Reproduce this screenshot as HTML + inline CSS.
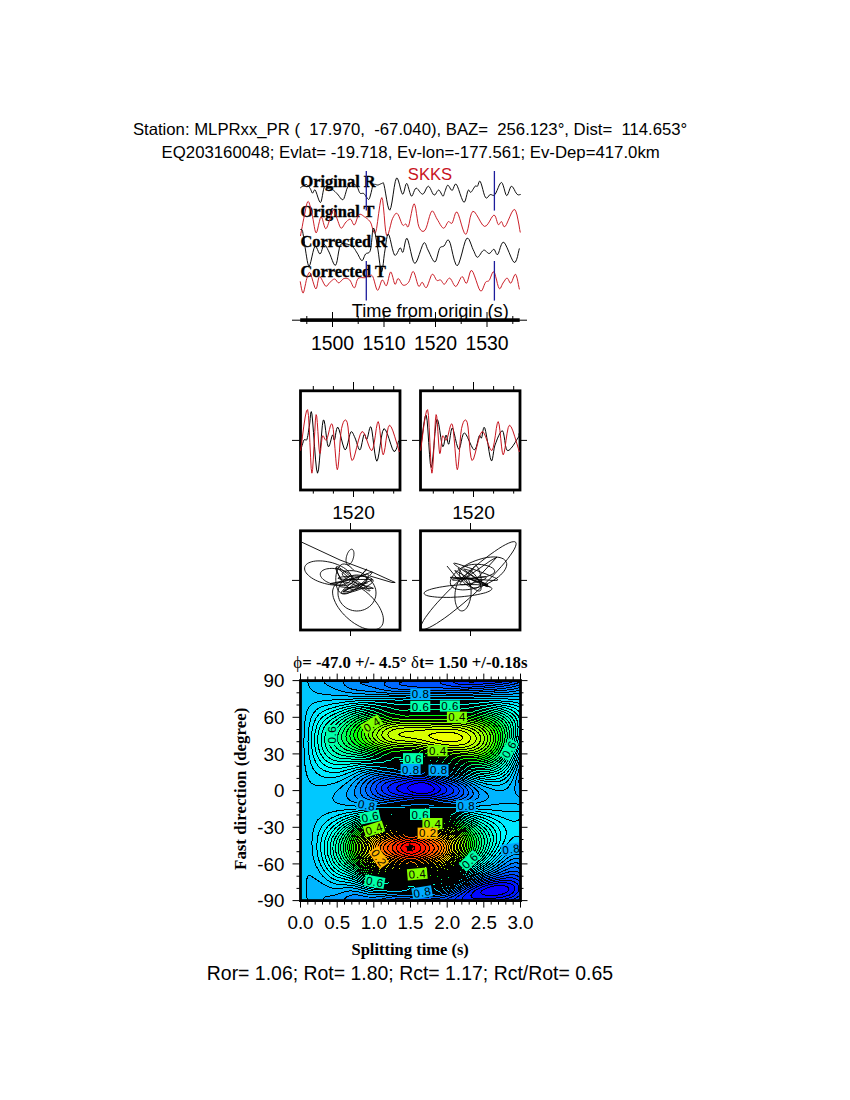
<!DOCTYPE html>
<html><head><meta charset="utf-8"><style>
html,body{margin:0;padding:0;background:#fff;}
body{width:850px;height:1100px;overflow:hidden;}
svg{display:block;}
.h{font-family:"Liberation Sans",Arial,sans-serif;}
.t{font-family:"Liberation Serif","Times New Roman",serif;font-weight:bold;}
text{white-space:pre;}
</style></head><body>
<svg width="850" height="1100" viewBox="0 0 850 1100">
<rect width="850" height="1100" fill="#fff"/>

<text class="h" x="132.9" y="134.8" font-size="16.72">Station: MLPRxx_PR (  17.970,  -67.040), BAZ=  256.123°, Dist=  114.653°</text>
<text class="h" x="161.6" y="157.8" font-size="16.77">EQ203160048; Evlat= -19.718, Ev-lon=-177.561; Ev-Dep=417.0km</text>
<text class="t" x="300.5" y="186.6" font-size="16.4" stroke="#000" stroke-width="0.35">Original R</text>
<text class="t" x="300.5" y="216.8" font-size="16.4" stroke="#000" stroke-width="0.35">Original T</text>
<text class="t" x="300.5" y="246.8" font-size="16.4" stroke="#000" stroke-width="0.35">Corrected R</text>
<text class="t" x="300.5" y="276.8" font-size="16.4" stroke="#000" stroke-width="0.35">Corrected T</text>
<polyline fill="none" stroke="#000" stroke-width="0.95" points="300.2,187.9 300.5,187.7 300.9,187.4 301.4,187.0 302.0,186.7 302.6,186.3 303.1,186.0 303.6,185.7 304.2,185.3 304.8,184.9 305.3,184.6 305.9,184.4 306.5,184.5 307.1,184.8 307.7,185.4 308.4,186.1 309.0,186.8 309.6,187.6 310.1,188.4 310.6,189.2 311.0,190.2 311.4,191.2 311.7,192.1 312.1,192.7 312.5,193.1 312.9,192.9 313.3,192.1 313.7,191.2 314.2,190.3 314.7,189.9 315.3,190.2 316.0,191.7 316.9,194.2 317.8,197.1 318.8,199.9 319.7,201.9 320.5,202.5 321.2,201.4 321.8,198.9 322.4,195.7 323.0,192.2 323.6,189.3 324.2,187.4 324.8,186.6 325.4,186.6 326.0,186.9 326.7,187.5 327.3,188.1 328.0,188.5 328.7,188.7 329.5,188.8 330.3,189.0 331.1,189.1 331.9,189.4 332.7,189.8 333.5,190.3 334.2,190.9 335.0,191.6 335.8,192.4 336.6,193.2 337.4,194.0 338.3,195.1 339.3,196.4 340.3,197.8 341.3,199.0 342.2,199.7 343.1,199.6 343.9,198.6 344.6,196.7 345.3,194.4 346.0,191.9 346.6,189.7 347.3,187.9 348.0,186.6 348.6,185.5 349.2,184.7 349.8,183.9 350.4,183.4 351.0,183.0 351.5,182.8 352.0,182.8 352.5,183.0 353.0,183.3 353.5,183.7 354.0,184.0 354.5,184.3 355.1,184.7 355.6,185.1 356.2,185.6 356.7,186.2 357.2,186.9 357.7,187.8 358.1,188.9 358.6,190.2 359.0,191.3 359.5,192.4 360.0,193.1 360.6,193.5 361.2,193.5 361.9,193.4 362.6,193.3 363.2,193.3 363.8,193.5 364.3,194.0 364.8,194.6 365.3,195.3 365.7,196.1 366.1,196.8 366.6,197.3 367.1,197.8 367.5,198.5 368.0,199.1 368.4,199.4 368.9,199.3 369.4,198.7 369.9,197.2 370.5,195.0 371.2,192.4 371.8,189.7 372.3,187.4 372.8,185.7 373.2,184.8 373.5,184.3 373.8,184.1 374.0,184.2 374.3,184.3 374.7,184.3 375.2,184.3 375.7,184.5 376.2,184.7 376.8,184.9 377.4,185.0 378.0,185.0 378.7,184.8 379.4,184.5 380.2,184.1 380.9,183.8 381.6,183.5 382.2,183.4 382.6,183.2 382.9,182.9 383.1,182.6 383.3,182.8 383.6,183.5 384.1,185.2 384.8,188.7 385.7,193.9 386.7,199.8 387.7,205.2 388.8,209.1 389.8,210.2 390.9,207.6 392.0,202.0 393.1,194.8 394.2,187.4 395.3,181.4 396.4,178.2 397.5,178.4 398.5,181.0 399.6,184.9 400.6,189.1 401.6,192.5 402.5,194.2 403.3,193.7 404.0,191.7 404.7,189.0 405.3,186.3 406.0,184.2 406.7,183.4 407.5,184.4 408.2,186.7 409.0,189.6 409.8,192.5 410.6,194.9 411.4,196.1 412.2,195.8 412.9,194.4 413.6,192.5 414.4,190.5 415.2,188.9 416.1,188.1 417.1,188.5 418.2,189.6 419.3,191.2 420.5,192.7 421.6,193.8 422.7,194.2 423.7,193.5 424.7,192.0 425.6,190.0 426.5,188.1 427.5,186.7 428.4,186.2 429.3,186.9 430.3,188.4 431.3,190.5 432.2,192.5 433.1,194.2 434.0,195.1 434.8,194.9 435.7,194.0 436.4,192.7 437.2,191.4 438.0,190.4 438.7,190.0 439.5,190.5 440.2,191.6 441.0,193.0 441.7,194.5 442.3,195.6 442.9,196.1 443.4,196.0 443.7,195.4 444.0,194.5 444.3,193.5 444.6,192.4 445.0,191.4 445.4,190.3 445.8,189.0 446.3,187.7 446.7,186.5 447.2,185.6 447.8,185.2 448.4,185.5 449.1,186.5 449.9,187.8 450.6,189.1 451.4,190.1 452.1,190.4 452.8,189.8 453.4,188.3 454.0,186.6 454.7,185.0 455.4,184.1 456.3,184.3 457.4,186.2 458.7,189.6 460.0,193.6 461.4,197.5 462.7,200.7 463.8,202.2 464.7,201.8 465.5,200.0 466.2,197.3 466.9,194.4 467.5,191.9 468.1,190.4 468.6,190.0 469.1,190.3 469.5,191.0 469.9,191.8 470.4,192.3 470.9,192.3 471.5,191.7 472.3,190.6 473.0,189.4 473.8,188.1 474.5,187.0 475.1,186.2 475.6,185.9 476.0,185.9 476.4,186.1 476.7,186.3 477.1,186.4 477.5,186.2 477.9,185.4 478.3,184.2 478.7,182.8 479.2,181.7 479.7,181.1 480.3,181.5 481.0,183.2 481.9,186.0 482.8,189.4 483.7,192.8 484.6,195.7 485.5,197.5 486.3,198.1 487.1,197.8 487.9,197.1 488.7,196.1 489.4,195.1 490.2,194.6 491.0,194.6 491.7,194.8 492.4,195.2 493.2,195.4 494.0,195.3 494.9,194.6 495.9,193.0 497.0,190.5 498.2,187.7 499.3,185.0 500.5,183.1 501.5,182.4 502.4,183.4 503.3,185.8 504.2,188.8 505.0,191.9 505.8,194.4 506.6,195.6 507.4,195.1 508.2,193.5 509.0,191.2 509.8,188.9 510.6,187.0 511.4,186.2 512.3,186.6 513.3,187.9 514.3,189.6 515.2,191.5 516.2,193.1 517.0,194.2 517.8,194.7 518.5,194.9 519.2,194.8 519.9,194.6 520.4,194.5 520.8,194.4"/><polyline fill="none" stroke="#c8141e" stroke-width="0.95" points="300.5,236.0 300.9,233.6 301.5,230.3 302.3,226.3 303.0,222.2 303.8,218.3 304.5,215.0 305.1,212.0 305.7,208.9 306.3,205.9 306.9,203.5 307.6,201.9 308.2,201.4 308.9,202.2 309.6,204.3 310.4,207.1 311.1,210.3 311.8,213.6 312.5,216.5 313.1,219.5 313.7,223.1 314.3,226.6 314.9,229.8 315.5,232.0 316.2,232.9 316.9,231.8 317.7,229.0 318.5,225.2 319.4,221.5 320.2,218.4 321.0,217.0 321.8,217.6 322.6,219.6 323.3,222.4 324.1,225.3 324.9,227.7 325.6,228.7 326.3,228.4 327.1,227.1 327.8,225.3 328.5,223.2 329.2,221.1 329.9,219.3 330.5,217.5 331.2,215.4 331.8,213.4 332.4,211.6 333.0,210.3 333.6,209.9 334.2,210.5 334.9,211.9 335.6,213.8 336.2,216.1 336.9,218.2 337.5,220.0 338.1,221.6 338.7,223.4 339.3,225.1 339.9,226.6 340.5,227.7 341.2,228.2 341.9,228.0 342.7,227.1 343.5,225.8 344.4,224.3 345.2,223.0 346.0,222.0 346.8,221.3 347.6,220.5 348.4,219.9 349.1,219.5 349.9,219.2 350.6,219.3 351.3,219.9 351.9,221.1 352.5,222.6 353.1,223.9 353.7,224.8 354.4,224.9 355.1,224.0 355.9,222.2 356.6,219.9 357.4,217.7 358.3,215.8 359.1,214.6 360.0,214.2 360.9,214.4 361.8,214.8 362.8,215.5 363.8,216.3 364.7,217.0 365.6,217.6 366.6,218.3 367.6,219.0 368.5,219.9 369.5,220.9 370.4,222.1 371.3,224.1 372.1,226.9 373.0,229.8 373.8,232.2 374.7,233.3 375.6,232.5 376.6,228.5 377.6,221.5 378.7,213.3 379.8,205.5 380.8,199.7 381.8,197.6 382.7,200.3 383.4,206.8 384.2,215.3 384.9,224.1 385.7,231.3 386.5,235.3 387.5,235.5 388.5,233.3 389.5,229.5 390.6,225.2 391.6,221.1 392.6,218.4 393.5,216.7 394.3,215.3 395.0,214.2 395.7,213.6 396.5,213.3 397.3,213.6 398.2,214.7 399.1,216.6 400.0,219.0 400.9,221.4 401.7,223.5 402.5,224.9 403.2,225.4 403.8,225.4 404.3,225.0 404.8,224.5 405.3,224.1 405.8,224.0 406.3,224.4 406.7,225.3 407.1,226.3 407.5,226.9 408.0,226.9 408.6,225.9 409.4,223.1 410.3,218.6 411.3,213.5 412.3,208.7 413.3,205.2 414.2,203.8 415.0,205.3 415.8,208.9 416.5,213.7 417.3,218.9 418.0,223.6 418.9,226.8 419.8,228.7 420.8,230.2 421.9,231.1 423.0,231.4 424.0,231.1 425.1,230.1 426.2,227.9 427.3,224.5 428.4,220.4 429.5,216.4 430.6,213.2 431.6,211.3 432.6,211.0 433.4,211.8 434.3,213.4 435.2,215.3 436.1,217.3 437.0,219.0 438.0,220.6 439.1,222.5 440.2,224.5 441.3,226.2 442.4,227.6 443.4,228.2 444.3,227.9 445.2,226.9 446.0,225.4 446.8,223.8 447.6,222.4 448.3,221.6 449.0,221.5 449.6,222.0 450.2,222.6 450.8,223.2 451.4,223.5 452.1,223.1 452.8,221.6 453.6,219.2 454.4,216.4 455.2,213.8 456.1,212.2 457.2,212.2 458.4,214.5 459.8,218.8 461.3,224.1 462.8,229.1 464.3,232.9 465.7,234.4 466.9,232.7 468.0,228.6 469.1,223.3 470.1,217.8 471.4,213.5 472.8,211.3 474.5,211.9 476.4,214.5 478.5,218.1 480.6,221.9 482.6,225.0 484.5,226.4 486.3,225.8 488.0,223.8 489.7,221.1 491.2,218.3 492.7,216.1 493.9,215.1 494.9,215.6 495.7,217.2 496.4,219.3 497.0,221.5 497.6,223.4 498.2,224.5 498.8,224.6 499.4,224.2 499.9,223.3 500.4,222.5 500.9,221.8 501.5,221.6 502.0,222.2 502.5,223.4 503.0,224.9 503.5,226.1 504.2,226.8 505.2,226.4 506.5,224.4 508.0,220.9 509.8,216.8 511.5,212.9 513.2,210.2 514.6,209.4 515.8,211.2 517.0,215.0 518.0,219.9 519.0,225.0 519.7,229.5 520.3,232.5"/><polyline fill="none" stroke="#000" stroke-width="0.95" points="300.2,229.5 300.5,229.5 300.8,229.4 301.2,229.3 301.7,229.5 302.1,230.1 302.6,231.4 303.0,233.6 303.5,236.5 304.0,239.8 304.5,243.4 305.0,246.8 305.5,250.0 306.0,253.3 306.6,256.9 307.2,260.5 307.8,263.5 308.5,265.6 309.2,266.2 310.0,264.7 310.9,261.3 311.9,256.9 312.9,252.4 313.9,248.6 314.8,246.5 315.7,246.4 316.6,247.6 317.5,249.6 318.4,251.7 319.2,253.4 320.0,254.0 320.8,253.2 321.5,251.5 322.1,249.3 322.8,247.1 323.5,245.4 324.2,244.6 324.9,244.8 325.7,245.6 326.5,246.9 327.3,248.5 328.1,250.2 329.0,252.0 330.0,254.3 331.1,257.2 332.3,260.4 333.4,263.1 334.5,264.9 335.5,265.3 336.4,263.7 337.2,260.5 337.9,256.3 338.6,252.0 339.4,248.1 340.2,245.5 341.1,244.1 342.0,243.5 343.0,243.4 344.0,243.5 345.0,243.8 346.0,244.0 347.1,244.1 348.2,244.4 349.3,244.7 350.4,245.2 351.5,245.8 352.5,246.5 353.4,247.4 354.2,248.4 355.0,249.5 355.7,250.7 356.4,251.9 357.2,253.1 358.0,254.5 358.8,256.1 359.6,257.7 360.4,259.1 361.2,260.2 361.9,260.6 362.6,260.3 363.2,259.3 363.7,258.0 364.3,256.5 364.9,255.1 365.6,254.0 366.4,253.4 367.2,253.2 368.0,253.1 368.9,252.7 369.7,251.9 370.4,250.2 371.0,247.1 371.5,242.5 372.0,237.5 372.4,232.8 372.9,229.4 373.5,228.0 374.2,229.1 374.9,232.1 375.7,236.2 376.5,241.0 377.3,245.8 378.0,250.0 378.6,254.2 379.2,259.0 379.8,263.8 380.4,267.9 380.9,270.9 381.5,272.0 382.1,270.8 382.7,267.7 383.3,263.4 383.8,258.5 384.4,253.8 385.0,250.0 385.5,246.6 386.0,242.9 386.5,239.4 387.1,236.5 387.7,234.6 388.4,234.2 389.3,235.9 390.3,239.5 391.3,244.1 392.4,248.8 393.5,252.7 394.5,255.0 395.5,255.3 396.5,254.3 397.5,252.5 398.5,250.5 399.3,248.8 400.1,247.9 400.7,248.2 401.2,249.1 401.6,250.4 402.0,251.6 402.5,252.3 403.0,252.1 403.6,250.4 404.2,247.5 404.8,244.0 405.5,240.8 406.3,238.7 407.2,238.5 408.2,240.9 409.4,245.6 410.7,251.4 412.0,257.0 413.3,261.4 414.7,263.4 416.2,262.3 417.7,259.0 419.3,254.4 420.9,249.6 422.4,245.5 423.6,243.2 424.6,242.7 425.3,243.3 425.9,244.6 426.5,246.3 427.2,248.3 428.0,250.0 429.0,252.0 430.2,254.6 431.4,257.3 432.7,259.7 433.8,261.4 434.9,262.0 435.8,261.1 436.6,258.9 437.4,256.1 438.1,253.1 438.9,250.3 439.6,248.4 440.3,247.4 441.1,246.9 441.8,246.7 442.5,246.6 443.2,246.4 444.0,246.0 444.8,244.9 445.6,243.4 446.4,241.7 447.2,240.4 448.2,240.0 449.2,240.8 450.4,243.8 451.6,248.8 452.9,254.7 454.3,260.2 455.8,264.3 457.2,265.8 458.7,263.8 460.3,259.1 462.0,253.0 463.6,246.7 465.2,241.4 466.6,238.5 467.9,238.2 469.1,239.5 470.2,242.0 471.3,244.9 472.3,247.7 473.2,249.8 474.0,251.4 474.7,253.1 475.4,254.7 476.0,256.0 476.7,256.9 477.5,257.3 478.4,256.8 479.4,255.6 480.5,254.0 481.5,252.3 482.6,251.0 483.6,250.2 484.6,250.2 485.5,250.8 486.5,251.7 487.4,252.6 488.3,253.3 489.2,253.5 490.0,253.1 490.9,252.3 491.7,251.3 492.4,250.3 493.2,249.5 493.9,249.3 494.6,249.8 495.1,251.0 495.7,252.4 496.3,253.7 496.9,254.5 497.7,254.5 498.5,253.1 499.4,250.5 500.3,247.4 501.4,244.5 502.5,242.6 503.8,242.2 505.3,244.1 507.1,247.8 509.1,252.5 511.0,257.1 512.7,260.7 514.2,262.5 515.4,262.0 516.5,259.8 517.5,256.7 518.2,253.3 518.9,250.3 519.4,248.4"/><polyline fill="none" stroke="#c8141e" stroke-width="0.95" points="300.2,281.4 300.5,283.0 300.9,285.4 301.4,288.2 302.0,290.7 302.5,292.5 303.1,293.1 303.7,292.1 304.3,289.8 304.9,286.9 305.6,283.7 306.2,280.7 306.8,278.5 307.3,276.8 307.8,275.2 308.3,273.8 308.8,272.8 309.4,272.5 310.1,272.9 310.9,274.6 311.9,277.7 312.9,281.3 314.0,284.9 314.9,287.6 315.8,288.9 316.5,288.2 317.1,286.1 317.6,283.2 318.2,280.1 318.8,277.7 319.5,276.6 320.4,277.1 321.4,278.6 322.5,280.8 323.6,283.1 324.7,285.0 325.6,286.1 326.4,286.2 327.2,285.8 327.8,285.0 328.5,284.0 329.2,283.1 329.9,282.3 330.7,281.6 331.5,280.9 332.3,280.2 333.1,279.6 333.8,279.1 334.6,279.0 335.3,279.3 336.0,280.0 336.7,281.0 337.3,281.9 338.0,282.6 338.8,282.8 339.6,282.5 340.4,281.8 341.3,280.8 342.2,279.8 343.1,279.0 344.0,278.5 344.9,278.3 345.9,278.3 346.8,278.4 347.8,278.7 348.7,279.2 349.6,279.9 350.5,281.1 351.3,282.7 352.1,284.6 352.9,286.3 353.7,287.5 354.4,287.9 355.0,287.2 355.6,285.7 356.1,283.8 356.6,281.6 357.3,279.8 358.1,278.5 359.2,277.9 360.5,277.6 361.8,277.6 363.2,277.7 364.5,277.7 365.6,277.6 366.5,277.3 367.2,276.9 367.8,276.5 368.3,276.2 368.8,275.9 369.4,275.7 370.0,275.5 370.5,275.3 371.0,275.2 371.6,275.2 372.2,275.7 372.8,276.6 373.5,278.4 374.3,281.1 375.1,284.1 375.9,287.0 376.7,289.3 377.5,290.3 378.3,289.8 379.1,288.1 379.9,285.7 380.7,283.1 381.4,281.1 382.2,280.0 382.9,280.2 383.7,281.4 384.4,283.0 385.1,284.6 385.8,285.6 386.5,285.6 387.2,284.1 387.9,281.5 388.6,278.3 389.3,275.3 390.0,272.9 390.7,271.9 391.4,272.7 392.1,274.7 392.9,277.5 393.6,280.5 394.3,282.9 394.9,284.2 395.5,284.1 396.0,283.2 396.5,281.7 397.0,280.2 397.6,278.9 398.2,278.5 398.9,279.0 399.7,280.1 400.5,281.6 401.3,283.1 402.1,284.4 403.0,285.1 403.9,285.3 404.8,285.2 405.8,284.8 406.8,284.2 407.7,283.3 408.6,282.3 409.4,280.7 410.2,278.4 411.0,275.8 411.7,273.5 412.5,271.9 413.3,271.5 414.2,272.7 415.1,275.2 416.0,278.4 416.9,281.7 417.7,284.4 418.5,286.1 419.2,286.4 419.8,285.9 420.4,284.8 421.0,283.6 421.6,282.6 422.2,282.3 422.9,282.9 423.5,284.0 424.2,285.5 424.9,286.8 425.7,287.6 426.5,287.5 427.4,286.1 428.3,283.7 429.3,280.8 430.3,278.0 431.2,275.6 432.1,274.3 432.9,274.3 433.8,275.1 434.6,276.6 435.3,278.1 436.1,279.5 436.8,280.4 437.5,280.6 438.1,280.5 438.8,280.3 439.4,280.0 440.0,279.8 440.6,279.9 441.2,280.5 441.8,281.4 442.4,282.4 443.0,283.4 443.7,284.0 444.4,284.2 445.2,283.6 446.0,282.4 446.9,280.9 447.8,279.4 448.8,278.4 449.7,278.1 450.7,278.9 451.7,280.5 452.7,282.5 453.7,284.5 454.8,286.0 455.8,286.5 456.8,285.7 457.9,283.9 458.9,281.7 460.0,279.4 461.0,277.5 461.9,276.6 462.8,277.0 463.6,278.3 464.3,280.1 465.0,281.8 465.8,283.0 466.6,283.2 467.4,281.8 468.2,279.2 469.0,276.0 469.8,273.0 470.7,270.9 471.8,270.5 473.1,272.3 474.5,275.9 476.1,280.4 477.6,284.9 479.0,288.7 480.3,290.8 481.4,291.0 482.3,289.9 483.2,287.9 484.0,285.7 484.8,283.7 485.5,282.3 486.2,281.7 486.8,281.4 487.4,281.3 487.9,281.3 488.5,281.0 489.2,280.4 489.9,279.1 490.7,277.1 491.5,275.0 492.3,273.1 493.1,271.9 493.9,271.9 494.8,273.5 495.6,276.4 496.6,280.0 497.4,283.6 498.3,286.6 499.1,288.4 499.8,288.8 500.5,288.2 501.1,287.0 501.7,285.6 502.4,284.1 503.0,283.0 503.7,282.0 504.4,281.0 505.1,279.9 505.7,279.0 506.4,278.3 507.1,278.1 507.7,278.5 508.4,279.6 509.0,280.9 509.6,282.2 510.2,283.0 510.9,283.2 511.6,282.2 512.4,280.4 513.2,278.1 514.1,276.0 514.9,274.6 515.6,274.3 516.3,275.6 517.1,278.1 517.8,281.3 518.4,284.6 519.0,287.5 519.4,289.4"/><line x1="366.3" y1="171" x2="366.3" y2="210.6" stroke="#1c1c9c" stroke-width="1.3"/><line x1="366.3" y1="261" x2="366.3" y2="300.6" stroke="#1c1c9c" stroke-width="1.3"/><line x1="494.4" y1="171" x2="494.4" y2="210.6" stroke="#1c1c9c" stroke-width="1.3"/><line x1="494.4" y1="261" x2="494.4" y2="300.6" stroke="#1c1c9c" stroke-width="1.3"/>
<text class="h" x="407.8" y="179.6" font-size="16.63" fill="#c8141e">SKKS</text>
<line x1="292" y1="320.2" x2="527" y2="320.2" stroke="#000" stroke-width="1"/>
<rect x="300.2" y="318.3" width="219.5" height="3.6" fill="#000"/>
<line x1="306.8" y1="316" x2="306.8" y2="324" stroke="#000" stroke-width="1"/>
<line x1="332.5" y1="312" x2="332.5" y2="327" stroke="#000" stroke-width="1"/>
<line x1="358.2" y1="316" x2="358.2" y2="324" stroke="#000" stroke-width="1"/>
<line x1="384.0" y1="312" x2="384.0" y2="327" stroke="#000" stroke-width="1"/>
<line x1="409.8" y1="316" x2="409.8" y2="324" stroke="#000" stroke-width="1"/>
<line x1="435.5" y1="312" x2="435.5" y2="327" stroke="#000" stroke-width="1"/>
<line x1="461.2" y1="316" x2="461.2" y2="324" stroke="#000" stroke-width="1"/>
<line x1="487.0" y1="312" x2="487.0" y2="327" stroke="#000" stroke-width="1"/>
<line x1="512.8" y1="316" x2="512.8" y2="324" stroke="#000" stroke-width="1"/>
<text class="h" x="351.8" y="317.4" font-size="18.2">Time from origin (s)</text>
<text class="h" x="332.5" y="349.5" font-size="19.4" text-anchor="middle">1500</text>
<text class="h" x="384.0" y="349.5" font-size="19.4" text-anchor="middle">1510</text>
<text class="h" x="435.5" y="349.5" font-size="19.4" text-anchor="middle">1520</text>
<text class="h" x="487.0" y="349.5" font-size="19.4" text-anchor="middle">1530</text>
<rect x="300.5" y="390.8" width="99.5" height="99.2" fill="none" stroke="#000" stroke-width="2.8"/>
<rect x="300.5" y="530.8" width="99.5" height="99.2" fill="none" stroke="#000" stroke-width="2.8"/>
<rect x="420.5" y="390.8" width="99.5" height="99.2" fill="none" stroke="#000" stroke-width="2.8"/>
<rect x="420.5" y="530.8" width="99.5" height="99.2" fill="none" stroke="#000" stroke-width="2.8"/>
<line x1="313.3" y1="386" x2="313.3" y2="390.8" stroke="#000" stroke-width="1"/>
<line x1="313.3" y1="490.0" x2="313.3" y2="493.6" stroke="#000" stroke-width="1"/>
<line x1="333.4" y1="386" x2="333.4" y2="390.8" stroke="#000" stroke-width="1"/>
<line x1="333.4" y1="490.0" x2="333.4" y2="493.6" stroke="#000" stroke-width="1"/>
<line x1="353.5" y1="382" x2="353.5" y2="390.8" stroke="#000" stroke-width="1"/>
<line x1="353.5" y1="490.0" x2="353.5" y2="497" stroke="#000" stroke-width="1"/>
<line x1="373.6" y1="386" x2="373.6" y2="390.8" stroke="#000" stroke-width="1"/>
<line x1="373.6" y1="490.0" x2="373.6" y2="493.6" stroke="#000" stroke-width="1"/>
<line x1="393.7" y1="386" x2="393.7" y2="390.8" stroke="#000" stroke-width="1"/>
<line x1="393.7" y1="490.0" x2="393.7" y2="493.6" stroke="#000" stroke-width="1"/>
<line x1="292.0" y1="440.4" x2="300.5" y2="440.4" stroke="#000" stroke-width="1"/>
<line x1="400.0" y1="440.4" x2="407.0" y2="440.4" stroke="#000" stroke-width="1"/>
<text class="h" x="353.5" y="519.2" font-size="19.2" text-anchor="middle">1520</text>
<line x1="350.5" y1="523" x2="350.5" y2="530.8" stroke="#000" stroke-width="1"/>
<line x1="350.5" y1="630.0" x2="350.5" y2="636" stroke="#000" stroke-width="1"/>
<line x1="292.0" y1="580.4" x2="300.5" y2="580.4" stroke="#000" stroke-width="1"/>
<line x1="400.0" y1="580.4" x2="407.0" y2="580.4" stroke="#000" stroke-width="1"/>
<line x1="433.3" y1="386" x2="433.3" y2="390.8" stroke="#000" stroke-width="1"/>
<line x1="433.3" y1="490.0" x2="433.3" y2="493.6" stroke="#000" stroke-width="1"/>
<line x1="453.4" y1="386" x2="453.4" y2="390.8" stroke="#000" stroke-width="1"/>
<line x1="453.4" y1="490.0" x2="453.4" y2="493.6" stroke="#000" stroke-width="1"/>
<line x1="473.5" y1="382" x2="473.5" y2="390.8" stroke="#000" stroke-width="1"/>
<line x1="473.5" y1="490.0" x2="473.5" y2="497" stroke="#000" stroke-width="1"/>
<line x1="493.6" y1="386" x2="493.6" y2="390.8" stroke="#000" stroke-width="1"/>
<line x1="493.6" y1="490.0" x2="493.6" y2="493.6" stroke="#000" stroke-width="1"/>
<line x1="513.7" y1="386" x2="513.7" y2="390.8" stroke="#000" stroke-width="1"/>
<line x1="513.7" y1="490.0" x2="513.7" y2="493.6" stroke="#000" stroke-width="1"/>
<line x1="412.0" y1="440.4" x2="420.5" y2="440.4" stroke="#000" stroke-width="1"/>
<line x1="520.0" y1="440.4" x2="527.0" y2="440.4" stroke="#000" stroke-width="1"/>
<text class="h" x="473.5" y="519.2" font-size="19.2" text-anchor="middle">1520</text>
<line x1="470.5" y1="523" x2="470.5" y2="530.8" stroke="#000" stroke-width="1"/>
<line x1="470.5" y1="630.0" x2="470.5" y2="636" stroke="#000" stroke-width="1"/>
<line x1="412.0" y1="580.4" x2="420.5" y2="580.4" stroke="#000" stroke-width="1"/>
<line x1="520.0" y1="580.4" x2="527.0" y2="580.4" stroke="#000" stroke-width="1"/>
<polyline fill="none" stroke="#000" stroke-width="1" points="300.6,450.6 301.0,449.3 301.5,447.5 302.1,445.3 302.8,443.2 303.4,441.3 304.0,440.0 304.5,439.5 305.0,439.5 305.6,439.9 306.1,440.2 306.5,440.1 307.0,439.3 307.4,437.7 307.9,435.4 308.3,432.8 308.7,430.0 309.1,427.4 309.5,425.0 309.9,422.1 310.2,418.5 310.5,414.8 310.9,412.3 311.3,411.6 311.9,413.9 312.6,421.0 313.5,432.6 314.5,446.2 315.5,459.1 316.5,469.0 317.5,473.2 318.5,469.9 319.4,460.9 320.4,448.8 321.4,436.2 322.3,425.7 323.2,420.2 324.1,420.4 324.9,424.5 325.7,430.7 326.5,437.5 327.3,443.3 328.1,446.4 328.9,446.5 329.7,444.8 330.4,442.1 331.2,439.1 331.8,436.5 332.4,435.1 332.9,435.2 333.2,436.2 333.5,437.6 333.8,439.1 334.1,440.0 334.5,440.0 335.0,438.5 335.4,435.8 335.9,432.5 336.5,429.6 337.2,427.6 338.0,427.3 339.0,429.5 340.2,433.7 341.4,438.9 342.7,444.0 344.0,448.1 345.1,449.9 346.1,449.0 347.1,446.1 348.1,442.1 349.0,437.9 349.9,434.3 350.7,432.2 351.5,431.7 352.2,432.1 352.9,433.2 353.6,434.7 354.3,436.3 355.0,437.9 355.8,439.9 356.6,442.5 357.5,445.2 358.3,447.7 359.1,449.4 359.9,449.9 360.7,448.7 361.4,446.0 362.1,442.6 362.8,439.1 363.5,436.1 364.1,434.4 364.6,434.2 365.1,435.1 365.5,436.6 365.9,438.2 366.4,439.2 366.9,439.3 367.5,437.7 368.2,434.9 368.9,431.5 369.6,428.5 370.4,426.8 371.2,427.3 372.0,431.1 372.9,437.7 373.8,445.5 374.8,453.1 375.8,458.9 376.8,461.2 377.9,459.0 379.0,453.2 380.1,445.7 381.3,437.9 382.5,431.7 383.9,428.7 385.4,429.7 387.2,433.4 389.0,438.6 390.8,444.2 392.4,448.8 393.8,451.3 395.0,451.3 396.0,449.8 396.9,447.4 397.6,444.7 398.2,442.2 398.7,440.7"/>
<polyline fill="none" stroke="#c8141e" stroke-width="1" points="300.6,450.6 301.4,444.9 302.5,436.1 303.8,426.1 305.2,417.0 306.5,410.9 307.6,409.6 308.5,415.6 309.2,427.6 309.9,442.5 310.6,457.2 311.2,468.5 311.9,473.2 312.6,469.4 313.3,459.1 314.0,445.4 314.8,431.4 315.4,420.1 316.1,414.6 316.7,416.1 317.3,422.4 317.9,431.4 318.5,441.0 319.1,449.1 319.6,453.4 320.1,453.5 320.6,451.0 321.0,446.9 321.5,442.3 322.0,438.3 322.5,436.0 323.1,435.7 323.7,436.5 324.3,437.9 325.0,439.3 325.7,440.2 326.5,440.0 327.4,437.8 328.4,434.0 329.4,429.7 330.4,425.9 331.5,423.8 332.4,424.5 333.3,429.5 334.1,438.3 335.0,448.7 335.8,458.8 336.5,466.5 337.3,469.7 338.0,467.5 338.7,461.1 339.4,452.4 340.0,443.0 340.7,434.5 341.5,428.7 342.4,425.1 343.3,422.4 344.3,420.6 345.3,419.9 346.3,420.5 347.2,422.4 348.0,427.0 348.7,434.3 349.4,442.9 350.1,451.1 351.0,457.5 352.1,460.5 353.5,459.0 355.0,454.0 356.7,447.2 358.5,440.1 360.3,434.3 362.0,431.5 363.7,432.5 365.4,436.1 367.2,441.1 368.9,446.0 370.5,449.6 371.9,450.6 373.2,447.8 374.3,442.2 375.4,435.2 376.3,428.4 377.3,423.4 378.2,421.6 379.1,424.3 379.9,430.4 380.7,438.2 381.5,446.1 382.3,452.2 383.2,454.8 384.1,452.8 385.1,447.5 386.0,440.4 387.1,433.2 388.2,427.6 389.5,425.2 391.1,426.7 392.9,430.9 394.8,436.8 396.7,443.0 398.3,448.4 399.4,452.0"/>
<polyline fill="none" stroke="#000" stroke-width="1" points="420.6,449.2 421.2,444.5 422.1,437.2 423.1,429.0 424.2,421.5 425.2,416.4 426.2,415.3 427.1,420.2 427.9,430.0 428.7,442.3 429.5,454.3 430.3,463.6 431.2,467.5 432.1,464.4 433.0,456.1 434.0,445.1 434.9,433.7 435.9,424.3 436.8,419.5 437.8,420.1 438.8,424.3 439.8,430.7 440.8,437.5 441.7,443.3 442.5,446.4 443.2,446.5 443.9,444.7 444.4,441.9 445.0,438.8 445.5,436.2 446.0,435.1 446.5,435.7 447.0,437.6 447.4,440.0 447.8,442.3 448.3,443.9 448.8,444.2 449.3,442.5 449.8,439.3 450.4,435.3 451.0,431.6 451.6,428.8 452.4,428.0 453.3,429.8 454.3,433.7 455.4,438.6 456.5,443.5 457.7,447.4 458.7,449.2 459.6,448.3 460.5,445.3 461.3,441.3 462.2,437.3 463.2,434.1 464.4,432.9 465.9,434.2 467.5,437.3 469.3,441.3 471.1,445.3 472.8,448.5 474.2,449.9 475.3,449.2 476.3,446.9 477.2,443.8 477.9,440.4 478.6,437.6 479.2,435.8 479.7,435.4 480.1,435.8 480.5,436.6 480.8,437.6 481.1,438.2 481.5,438.0 482.0,436.5 482.4,434.0 482.9,431.1 483.4,428.6 484.1,427.3 484.8,428.0 485.7,431.5 486.8,437.5 488.0,444.6 489.1,451.6 490.2,457.4 491.2,460.5 491.9,460.7 492.5,458.8 493.0,455.7 493.6,451.8 494.2,448.1 495.0,445.0 496.1,442.2 497.3,438.9 498.7,435.7 500.1,433.0 501.4,431.2 502.5,430.8 503.4,432.5 504.1,436.1 504.8,440.6 505.4,445.1 506.3,448.8 507.4,450.6 509.0,450.3 510.9,448.5 513.0,445.8 515.0,442.7 516.7,439.9 518.0,437.9 518.7,436.6 519.0,435.7 519.0,435.0 518.9,434.4 518.7,434.0 518.7,433.6"/>
<polyline fill="none" stroke="#c8141e" stroke-width="1" points="420.6,450.6 421.4,444.9 422.5,436.1 423.8,426.1 425.2,417.0 426.5,410.9 427.6,409.6 428.5,415.6 429.2,427.6 429.9,442.5 430.6,457.2 431.2,468.5 431.9,473.2 432.6,469.4 433.3,459.1 434.0,445.4 434.8,431.4 435.4,420.1 436.1,414.6 436.7,416.1 437.3,422.4 437.9,431.4 438.5,441.0 439.1,449.1 439.6,453.4 440.1,453.5 440.6,451.0 441.0,446.9 441.5,442.3 442.0,438.3 442.5,436.0 443.1,435.7 443.7,436.5 444.3,437.9 445.0,439.3 445.7,440.2 446.5,440.0 447.4,437.8 448.4,434.0 449.4,429.7 450.4,425.9 451.5,423.8 452.4,424.5 453.3,429.5 454.1,438.3 455.0,448.7 455.8,458.8 456.5,466.5 457.3,469.7 458.0,467.5 458.7,461.1 459.4,452.4 460.0,443.0 460.7,434.5 461.5,428.7 462.4,425.1 463.3,422.4 464.3,420.6 465.3,419.9 466.3,420.5 467.2,422.4 468.0,427.0 468.7,434.3 469.4,442.9 470.1,451.1 471.0,457.5 472.1,460.5 473.5,459.0 475.0,454.0 476.7,447.2 478.5,440.1 480.3,434.3 482.0,431.5 483.7,432.5 485.4,436.1 487.2,441.1 488.9,446.0 490.5,449.6 491.9,450.6 493.2,447.8 494.3,442.2 495.4,435.2 496.3,428.4 497.3,423.4 498.2,421.6 499.1,424.3 499.9,430.4 500.7,438.2 501.5,446.1 502.3,452.2 503.2,454.8 504.1,452.8 505.1,447.5 506.0,440.4 507.1,433.2 508.2,427.6 509.5,425.2 511.1,426.7 512.9,430.9 514.8,436.8 516.7,443.0 518.3,448.4 519.4,452.0"/>
<polyline fill="none" stroke="#000" stroke-width="0.9" points="302,542.3 340,560 372,572 395.2,582.5 392,582.5 370,576"/><polyline fill="none" stroke="#000" stroke-width="0.9" points="381.0,626.7 379.8,627.9 378.3,628.8 376.5,629.4 374.6,629.8 372.4,629.9 370.1,629.7 367.7,629.3 365.1,628.6 362.5,627.7 359.8,626.5 357.1,625.0 354.4,623.4 351.7,621.5 349.2,619.5 346.7,617.3 344.3,615.0 342.1,612.6 340.1,610.1 338.3,607.6 336.7,605.1 335.4,602.5 334.3,600.0 333.4,597.6 332.9,595.3 332.6,593.1 332.6,591.0 333.0,589.1 333.6,587.4 334.4,585.9 335.6,584.7 337.0,583.6 338.6,582.9 340.4,582.4 342.5,582.1 344.7,582.1 347.1,582.4 349.6,583.0 352.2,583.8 354.9,584.9 357.6,586.2 360.3,587.8 362.9,589.5 365.6,591.5 368.1,593.6 370.5,595.8 372.8,598.2 374.9,600.6 376.8,603.1 378.5,605.6 380.0,608.2 381.2,610.7 382.2,613.2 382.9,615.6 383.3,617.8 383.4,620.0 383.2,622.0 382.8,623.8 382.0,625.4 381.0,626.7"/><polyline fill="none" stroke="#000" stroke-width="0.9" points="351.3,578.8 350.9,579.9 350.2,580.9 349.3,581.9 348.1,582.7 346.7,583.4 345.1,584.0 343.3,584.5 341.3,584.9 339.2,585.1 337.0,585.1 334.6,585.1 332.2,584.9 329.7,584.6 327.2,584.1 324.7,583.5 322.3,582.8 319.9,582.0 317.6,581.1 315.4,580.1 313.4,579.0 311.5,577.8 309.8,576.6 308.4,575.3 307.1,574.1 306.1,572.8 305.3,571.5 304.8,570.2 304.6,569.0 304.6,567.8 304.9,566.6 305.4,565.6 306.2,564.6 307.3,563.7 308.6,562.9 310.1,562.3 311.8,561.7 313.7,561.3 315.7,561.0 317.9,560.9 320.2,560.9 322.6,561.0 325.1,561.3 327.5,561.7 330.0,562.2 332.5,562.8 334.9,563.6 337.3,564.5 339.5,565.4 341.6,566.5 343.6,567.6 345.3,568.8 346.9,570.0 348.3,571.3 349.4,572.6 350.3,573.9 350.9,575.2 351.3,576.4 351.4,577.6 351.3,578.8"/><polyline fill="none" stroke="#000" stroke-width="0.9" points="376.0,593.0 375.9,594.9 375.6,596.8 375.0,598.7 374.3,600.4 373.4,602.1 372.3,603.7 371.0,605.2 369.5,606.5 367.9,607.7 366.2,608.7 364.4,609.6 362.5,610.2 360.5,610.7 358.5,610.9 356.5,611.0 354.5,610.8 352.5,610.5 350.6,609.9 348.7,609.2 346.9,608.3 345.3,607.2 343.7,605.9 342.4,604.5 341.2,603.0 340.1,601.3 339.3,599.6 338.7,597.7 338.2,595.9 338.0,594.0 338.0,592.0 338.2,590.1 338.7,588.3 339.3,586.4 340.1,584.7 341.2,583.0 342.4,581.5 343.7,580.1 345.3,578.8 346.9,577.7 348.7,576.8 350.6,576.1 352.5,575.5 354.5,575.2 356.5,575.0 358.5,575.1 360.5,575.3 362.5,575.8 364.4,576.4 366.2,577.3 367.9,578.3 369.5,579.5 371.0,580.8 372.3,582.3 373.4,583.9 374.3,585.6 375.0,587.3 375.6,589.2 375.9,591.1 376.0,593.0"/><polyline fill="none" stroke="#000" stroke-width="0.9" points="353.4,557.9 353.1,558.7 352.9,559.5 352.6,560.3 352.2,561.0 351.9,561.7 351.5,562.3 351.1,562.9 350.7,563.4 350.2,563.8 349.8,564.2 349.4,564.5 349.0,564.7 348.6,564.8 348.2,564.8 347.8,564.7 347.5,564.5 347.2,564.3 346.9,564.0 346.7,563.6 346.5,563.1 346.3,562.5 346.2,561.9 346.1,561.2 346.0,560.5 346.0,559.8 346.1,559.0 346.2,558.2 346.3,557.3 346.5,556.5 346.7,555.7 347.0,554.9 347.3,554.1 347.6,553.3 348.0,552.6 348.3,552.0 348.7,551.4 349.1,550.8 349.5,550.4 350.0,550.0 350.4,549.7 350.8,549.4 351.2,549.3 351.6,549.2 352.0,549.3 352.3,549.4 352.7,549.6 353.0,549.9 353.2,550.2 353.4,550.7 353.6,551.2 353.8,551.8 353.9,552.4 353.9,553.1 354.0,553.9 353.9,554.6 353.9,555.4 353.7,556.3 353.6,557.1 353.4,557.9"/><polyline fill="none" stroke="#000" stroke-width="0.9" points="353.9,570.3 351.9,568.3 350.0,566.6 348.0,565.2 346.2,564.4 344.4,564.0 342.7,564.1 341.1,564.8 339.7,566.0 338.5,567.6 337.5,569.7 336.7,572.1 336.1,574.7 335.8,577.5 335.8,580.4 336.0,583.2 336.4,585.8 337.2,588.2 338.1,590.3 339.4,591.9 340.8,593.1 342.5,593.8 344.4,594.0 346.5,593.7 348.7,593.0 351.1,591.8 353.5,590.3 355.9,588.5 358.3,586.5 360.7,584.4 363.0,582.3 365.2,580.2 367.1,578.3 368.8,576.5 370.2,575.0 371.3,573.8 372.0,572.9 372.4,572.3 372.3,572.0 371.8,572.0 370.9,572.3 369.5,572.8 367.8,573.4 365.7,574.2 363.2,575.2 360.4,576.1 357.5,577.1 354.3,578.0 351.1,578.9 347.9,579.8 344.7,580.6 341.7,581.2 338.9,581.8 336.4,582.3 334.2,582.8 332.4,583.1 331.1,583.4 330.3,583.6 330.0,583.7 330.2,583.8 330.9,583.7 332.0,583.6 333.6,583.4 335.5,583.1 337.8,582.7 340.4,582.2 343.1,581.6 345.9,580.9 348.8,580.1 351.7,579.3 354.5,578.4 357.1,577.5 359.6,576.6 361.7,575.9 363.6,575.2 365.2,574.6 366.5,574.3 367.4,574.2 368.1,574.3 368.4,574.7 368.4,575.3 368.2,576.2 367.7,577.4 367.0,578.7 366.1,580.2 365.1,581.8 363.9,583.4 362.6,584.9 361.2,586.4 359.8,587.7 358.2,588.7 356.7,589.4 355.0,589.8 353.4,589.8 351.7,589.5 350.0,588.7 348.3,587.6 346.7,586.1 345.0,584.3 343.4,582.4 341.9,580.3 340.5,578.1 339.2,576.0 338.0,573.9 337.1,572.1 336.4,570.5 335.9,569.2 335.7,568.3 335.8,567.8 336.2,567.6 336.9,567.9 338.0,568.6 339.3,569.7 341.0,571.0 342.9,572.6 345.0,574.4 347.3,576.4 349.7,578.4 352.2,580.4 354.8,582.3 357.3,584.2 359.7,585.8 361.9,587.3 364.0,588.5 365.8,589.5 367.3,590.2 368.5,590.7 369.4,590.9 369.9,590.9 370.0,590.7 369.8,590.3 369.2,589.6 368.3,588.8 367.0,587.9 365.5,586.8 363.8,585.6 361.9,584.3 359.8,582.9 357.6,581.4 355.3,579.8 353.1,578.2 350.8,576.5 348.6,574.9 346.5,573.3 344.6,571.8 342.8,570.3 341.2,569.1 339.8,568.0 338.6,567.2 337.6,566.7 336.9,566.5 336.5,566.7 336.3,567.3 336.3,568.2 336.6,569.6 337.2,571.3 337.9,573.3 338.9,575.6 340.1,578.1 341.4,580.7"/><polyline fill="none" stroke="#000" stroke-width="0.9" points="339.5,585.4 339.1,585.9 339.6,586.4 340.9,586.8 343.2,587.1 346.2,587.3 349.8,587.5 353.9,587.8 358.1,588.0 362.2,588.1 366.0,588.3 369.1,588.4 371.6,588.5 373.0,588.5 373.4,588.3 372.8,588.0 371.1,587.4 368.5,586.7 365.2,585.8 361.3,584.6 357.3,583.2 353.2,581.7 349.5,580.1 346.4,578.4 344.0,576.7 342.6,575.1 342.2,573.6 342.8,572.4 344.4,571.4 346.8,570.8 349.8,570.6 353.2,570.7 356.8,571.3 360.1,572.3 363.0,573.6 365.2,575.3 366.6,577.2 367.1,579.2 366.5,581.4 365.0,583.5 362.7,585.5 359.8,587.4 356.5,589.0 353.1,590.2 349.8,591.2 346.9,591.7 344.8,591.9 343.5,591.7 343.1,591.2 343.9,590.4 345.6,589.3 348.2,588.1 351.5,586.9 355.4,585.6 359.4,584.3 363.3,583.1 366.8,582.1 369.6,581.2 371.5,580.5 372.4,580.0 372.2,579.7 370.8,579.5 368.3,579.4 365.0,579.4 360.9,579.5 356.5,579.5 352.0,579.5 347.7,579.4 343.9,579.3 340.9,579.0 338.9,578.7 338.0,578.3 338.3,577.8 339.7,577.3 342.3,576.9 345.6,576.5 349.7,576.2 354.1,576.1 358.6,576.1 362.9,576.4 366.7,576.9 369.8,577.7 371.9,578.7 373.0,579.9 373.1,581.3 372.0,582.8 370.0,584.5 367.2,586.1 363.7,587.8 359.9,589.3 356.0,590.7 352.2,591.8 348.7,592.7 345.8,593.3 343.5,593.5 342.1,593.3 341.4,592.7 341.6,591.8 342.6,590.5 344.3,588.9 346.5,587.1 349.0,585.0 351.8,582.8 354.6,580.6 357.3,578.3 359.9,576.2 362.1,574.2 363.9,572.5 365.3,571.0 366.2,570.0 366.7,569.3 366.8,569.0 366.5,569.2 365.9,569.7 365.0,570.7 363.9,572.0 362.5,573.6 361.0,575.5 359.3,577.6 357.5,579.7 355.6,581.8 353.7,583.9 351.7,585.9 349.7,587.6 347.9,589.1 346.2,590.3 344.8,591.2 343.7,591.8 343.0,592.0 342.9,591.9 343.4,591.5 344.4,590.9 346.1,590.1 348.4,589.1 351.2,588.1 354.3,587.0 357.8,585.8 361.3,584.8 364.7,583.7 367.7,582.8"/><polyline fill="none" stroke="#000" stroke-width="0.9" points="353.6,580.5 353.4,581.3 352.9,582.1 352.3,582.8 351.5,583.5 350.5,584.0 349.4,584.5 348.1,584.9 346.7,585.2 345.2,585.4 343.6,585.6 341.9,585.6 340.2,585.5 338.4,585.3 336.7,585.1 334.9,584.7 333.1,584.3 331.4,583.8 329.8,583.2 328.2,582.5 326.8,581.8 325.4,581.0 324.2,580.1 323.1,579.3 322.2,578.4 321.5,577.5 320.9,576.6 320.5,575.6 320.3,574.8 320.3,573.9 320.5,573.1 320.8,572.3 321.4,571.5 322.1,570.9 323.0,570.3 324.1,569.7 325.3,569.3 326.6,568.9 328.0,568.7 329.6,568.5 331.2,568.4 332.9,568.4 334.7,568.6 336.4,568.8 338.2,569.1 340.0,569.5 341.7,570.0 343.4,570.5 345.0,571.2 346.5,571.9 347.9,572.6 349.2,573.4 350.3,574.3 351.3,575.2 352.2,576.1 352.8,577.0 353.3,577.9 353.6,578.8 353.7,579.7 353.6,580.5"/><polyline fill="none" stroke="#000" stroke-width="0.9" points="515.7,542.3 516.1,543.3 516.0,544.8 515.4,546.8 514.3,549.2 512.6,552.0 510.4,555.2 507.8,558.7 504.7,562.6 501.2,566.7 497.3,571.0 493.1,575.5 488.6,580.1 483.9,584.7 479.0,589.4 474.0,594.0 468.9,598.5 463.9,602.9 458.8,607.1 453.9,611.0 449.2,614.7 444.7,618.0 440.4,620.9 436.5,623.5 432.9,625.6 429.7,627.3 427.0,628.5 424.8,629.2 423.0,629.4 421.7,629.1 421.0,628.3 420.8,627.0 421.2,625.3 422.1,623.1 423.5,620.5 425.4,617.5 427.9,614.1 430.7,610.4 434.0,606.4 437.7,602.2 441.8,597.8 446.1,593.2 450.7,588.6 455.5,583.9 460.5,579.3 465.5,574.7 470.6,570.2 475.7,566.0 480.6,561.9 485.5,558.1 490.1,554.6 494.5,551.5 498.6,548.7 502.3,546.4 505.7,544.5 508.7,543.1 511.2,542.1 513.2,541.7 514.7,541.7 515.7,542.3"/><polyline fill="none" stroke="#000" stroke-width="0.9" points="506.3,562.2 506.7,563.5 506.7,565.0 506.4,566.5 505.8,568.1 504.9,569.8 503.7,571.6 502.2,573.3 500.5,575.1 498.5,576.8 496.2,578.5 493.8,580.1 491.2,581.7 488.4,583.2 485.6,584.5 482.6,585.7 479.6,586.8 476.6,587.8 473.6,588.6 470.7,589.2 467.9,589.6 465.2,589.8 462.6,589.9 460.2,589.7 458.0,589.4 456.1,588.9 454.4,588.3 452.9,587.4 451.8,586.4 451.0,585.3 450.5,584.0 450.3,582.6 450.4,581.1 450.8,579.5 451.6,577.8 452.6,576.1 454.0,574.4 455.6,572.6 457.5,570.9 459.6,569.1 462.0,567.5 464.5,565.9 467.2,564.4 470.0,562.9 472.9,561.7 475.9,560.5 478.9,559.5 481.9,558.6 484.8,557.9 487.7,557.4 490.5,557.1 493.2,556.9 495.6,557.0 497.9,557.2 500.0,557.6 501.8,558.2 503.4,558.9 504.7,559.9 505.6,560.9 506.3,562.2"/><polyline fill="none" stroke="#000" stroke-width="0.9" points="491.9,588.6 491.8,589.3 491.2,589.9 490.3,590.6 489.1,591.3 487.4,592.0 485.5,592.7 483.2,593.3 480.6,593.9 477.8,594.5 474.8,595.1 471.6,595.6 468.2,596.0 464.7,596.4 461.1,596.8 457.5,597.0 453.9,597.2 450.4,597.4 446.9,597.4 443.5,597.4 440.4,597.3 437.4,597.2 434.6,596.9 432.2,596.6 430.0,596.3 428.1,595.9 426.6,595.4 425.4,594.9 424.6,594.3 424.2,593.7 424.1,593.0 424.4,592.4 425.2,591.7 426.3,591.0 427.7,590.3 429.5,589.7 431.6,589.0 434.0,588.4 436.7,587.8 439.7,587.2 442.8,586.7 446.1,586.2 449.5,585.7 453.1,585.4 456.7,585.1 460.3,584.8 463.9,584.7 467.4,584.6 470.8,584.6 474.1,584.6 477.2,584.7 480.0,584.9 482.6,585.2 485.0,585.5 487.0,585.9 488.7,586.4 490.1,586.9 491.1,587.4 491.7,588.0 491.9,588.6"/><polyline fill="none" stroke="#000" stroke-width="0.9" points="471.0,594.7 470.8,596.5 470.5,598.3 470.1,600.0 469.6,601.6 469.1,603.2 468.5,604.7 467.9,606.0 467.1,607.2 466.4,608.3 465.6,609.2 464.7,609.9 463.9,610.4 463.0,610.8 462.2,610.9 461.3,610.9 460.5,610.7 459.7,610.3 458.9,609.7 458.2,608.9 457.5,608.0 456.9,606.9 456.4,605.6 455.9,604.3 455.5,602.8 455.2,601.2 455.0,599.5 454.9,597.8 454.9,596.0 455.0,594.2 455.1,592.4 455.4,590.6 455.7,588.9 456.1,587.2 456.6,585.6 457.2,584.1 457.8,582.7 458.5,581.4 459.2,580.2 460.0,579.3 460.8,578.5 461.7,577.8 462.5,577.4 463.4,577.1 464.3,577.1 465.1,577.2 465.9,577.5 466.7,578.0 467.5,578.7 468.2,579.5 468.8,580.5 469.4,581.7 469.9,583.0 470.3,584.5 470.6,586.0 470.9,587.6 471.0,589.3 471.1,591.1 471.1,592.9 471.0,594.7"/><polyline fill="none" stroke="#000" stroke-width="0.9" points="472.7,571.0 471.3,570.8 469.9,570.5 468.5,570.2 467.2,569.8 466.1,569.5 465.1,569.3 464.3,569.1 463.8,569.0 463.6,569.1 463.7,569.3 464.1,569.7 464.9,570.3 466.0,571.1 467.4,572.1 469.1,573.3 471.1,574.7 473.2,576.1 475.5,577.7 477.8,579.2 480.1,580.8 482.3,582.3 484.4,583.7 486.1,584.8 487.6,585.8 488.6,586.5 489.2,586.9 489.3,587.0 488.9,586.7 488.0,586.0 486.5,585.1 484.5,583.8 482.1,582.3 479.3,580.5 476.2,578.6 473.0,576.5 469.6,574.4 466.3,572.3 463.1,570.4 460.3,568.5 457.8,566.9 455.8,565.5 454.4,564.4 453.7,563.7 453.8,563.3 454.5,563.2 456.0,563.5 458.2,564.1 461.1,565.0 464.5,566.1 468.3,567.5 472.4,568.9 476.7,570.5 480.9,572.1 485.0,573.6 488.7,575.1 492.0,576.4 494.6,577.6 496.5,578.6 497.5,579.4 497.7,580.0 497.0,580.3 495.4,580.5 493.0,580.4 489.8,580.3 486.1,580.0 481.8,579.6 477.3,579.2 472.6,578.7 467.9,578.3 463.5,577.9 459.5,577.6 456.0,577.4 453.2,577.3 451.3,577.3 450.2,577.4 450.0,577.5 450.7,577.8 452.4,578.0 454.8,578.2 457.9,578.4 461.6,578.6 465.7,578.6 470.1,578.5 474.5,578.2 478.8,577.8 482.9,577.2 486.5,576.5 489.6,575.5 492.0,574.4 493.7,573.3 494.6,572.0 494.7,570.7 494.0,569.3 492.6,568.1 490.5,566.9 487.9,565.9 484.9,565.1 481.6,564.6 478.2,564.3 474.7,564.3 471.4,564.6 468.3,565.2 465.6,566.1 463.3,567.4 461.5,568.9 460.3,570.6 459.6,572.4 459.5,574.4 459.9,576.5 460.7,578.6 462.0,580.5 463.6,582.4 465.5,584.0 467.5,585.5 469.5,586.6 471.6,587.4 473.6,587.9 475.4,588.0 477.0,587.8 478.4,587.2 479.5,586.2 480.3,585.0 480.8,583.6 481.1,581.9 481.2,580.1 481.1,578.2 480.8,576.3 480.4,574.4 479.8,572.6 479.3,570.9 478.7,569.4 478.1,568.1 477.5,567.1 476.9,566.3 476.4,565.9 475.9,565.6 475.4,565.7 474.9,565.9 474.4,566.4 474.0,567.0 473.5,567.8 473.0,568.7 472.4,569.6 471.8,570.6 471.2,571.5 470.6,572.4 470.0,573.2 469.3,573.9 468.8,574.6 468.2,575.1 467.8,575.5 467.5,575.9 467.3,576.1 467.3,576.3 467.5,576.5 467.9,576.7 468.5,576.8 469.3,577.0 470.3,577.3"/><polyline fill="none" stroke="#000" stroke-width="0.9" points="482.5,584.8 484.4,585.5 485.8,586.0 486.9,586.4 487.5,586.6 487.6,586.6 487.2,586.4 486.4,586.1 485.1,585.6 483.5,584.9 481.5,584.1 479.3,583.1 476.8,582.0 474.2,580.8 471.6,579.5 468.9,578.1 466.3,576.7 463.9,575.4 461.6,574.1 459.6,572.9 457.9,572.0 456.6,571.2 455.6,570.7 455.0,570.4 454.8,570.5 455.0,570.9 455.6,571.7 456.5,572.7 457.8,574.1 459.3,575.7 461.1,577.5 463.1,579.4 465.2,581.4 467.4,583.4 469.5,585.3 471.7,587.1 473.7,588.6 475.5,589.7 477.1,590.5 478.5,591.0 479.6,591.0 480.4,590.6 480.9,589.8 481.1,588.7 481.0,587.3 480.6,585.6 480.1,583.8 479.3,581.9 478.4,580.0 477.3,578.2 476.2,576.5 475.1,575.0 474.0,573.7 472.9,572.8 471.9,572.1 470.9,571.7 470.1,571.6 469.2,571.9 468.5,572.3 467.7,573.0 467.1,573.8 466.4,574.7 465.7,575.8 465.0,576.8 464.3,577.9 463.6,578.9 462.9,579.9 462.2,580.8 461.5,581.6 461.0,582.3 460.5,583.0 460.2,583.5 460.1,583.9 460.2,584.3 460.5,584.5 461.2,584.6 462.2,584.7 463.4,584.6 465.0,584.5 466.8,584.3 468.8,583.9 471.0,583.5 473.4,583.0 475.7,582.4 478.0,581.7 480.1,581.1 482.1,580.3 483.7,579.6 485.0,578.9 485.9,578.3 486.3,577.8 486.2,577.3 485.7,577.0 484.7,576.8 483.2,576.8 481.4,576.9 479.1,577.1 476.6,577.4 473.9,577.8 471.0,578.3 468.1,578.7 465.2,579.2 462.5,579.6 460.0,579.9 457.7,580.1 455.8,580.3 454.3,580.3 453.1,580.2 452.5,580.1 452.3,579.8 452.5,579.5 453.2,579.2 454.4,578.9 455.9,578.7 457.8,578.5 460.0,578.4 462.5,578.5 465.2,578.6 468.0,578.9 470.8,579.4 473.7,579.9 476.4,580.6 479.0,581.3 481.4,582.0 483.5,582.7 485.2,583.4 486.6,584.0 487.5,584.5 488.0,584.8 488.0,584.9 487.5,584.9 486.6,584.7 485.2,584.4 483.4,583.8 481.3,583.1 478.8,582.3 476.1,581.4 473.3,580.5 470.4,579.4 467.4,578.4"/><polyline fill="none" stroke="#000" stroke-width="0.9" points="447,566 460,582 480,568 490,561 497,557 485,570 470,586 458,568"/>
<g><rect x="300.5" y="680.6" width="220" height="220" fill="#ff0400"/><path fill="#ff0800" d="M300.5 900.6l220 0 0-220-220 0 0 220zM410.5 850.6l-1.8-.5-1.3-.8-.5-1.3 .6-1.2 1.2-.8 1.8-.5 1.8 .1 2.1 1.2 .5 1.2-.4 1.3-2.2 1.2-1.8 .1z"/><path fill="#ff1d00" d="M300.5 900.6l220 0 0-220-220 0 0 220zM406.8 853.5l-3.8-1.8-1.7-1.8-.6-1.9 1-2.4 3.3-2.3 5.5-1.3 3.7 .4 2.4 .8 2.2 1.2 2 2.4 .1 2.5-.7 1.2-3.4 2.4-4.5 1.2-1.8 0-3.7-.6z"/><path fill="#ff3100" d="M300.5 900.6l220 0 0-220-220 0 0 220zM406.8 855.8l-5.5-1.9-3.1-2.2-1.1-1.2-.8-2.5 .2-1.2 1.2-1.9 2.1-1.7 5.6-2.5 3.3-.6 3.6-.2 3.7 .6 3.7 1.3 2.5 1.4 2.5 2.4 .6 1.2 .1 2.5-1.6 2.4-2.3 1.8-3.7 1.6-3.6 .9-3.7 .3-3.7-.5z"/><path fill="#ff4600" d="M300.5 900.6l220 0 0-220-220 0 0 220zM408.7 857.9l-5.5-1.2-3.7-1.3-4.2-2.5-2.5-2.4-.8-2.5 .8-2.4 2.5-2.4 1.9-1.3 4.1-1.8 3.7-1.1 4.6-.7 4.6 .1 3.6 .7 4.6 1.6 4.1 2.5 2.4 2.4 1 2.4-.7 2.5-2.2 2.3-1.9 1.4-5.4 2.4-3.7 .9-3.7 .5-3.6-.1z"/><path fill="#ff5a00" d="M300.5 900.6l220 0 0-220-220 0 0 220zM406.8 859.2l-5.7-1.4-6.1-2.4-4.2-2.5-2.5-2.4-.8-2.5 .8-2.4 2.6-2.4 4.2-2.5 6.2-2.4 5.5-1.2 5.5-.4 3.7 .4 5.5 1.4 5.3 2.2 5.5 3.7 1.7 2.4 .2 2.5-1.4 2.4-3.2 2.5-4.4 2.2-3.8 1.4-5.4 1.3-5.5 .4-3.7-.3z"/><path fill="#ff6f00" d="M300.5 900.6l220 0 0-220-220 0 0 220zM405 860.3l-7.3-2-7.3-2.9-4.2-2.5-2.1-2.4-.5-1.2 .1-2.5 1.4-2.4 3.2-2.5 5.1-2.4 7.2-2.5 5.8-1.2 5.9-.4 4.4 .4 6.6 1.7 7.9 3.2 5 3.3 1.9 2.8 .1 2.5-1.2 2.4-2.7 2.5-4.8 2.4-6.8 2.4-6.7 1.5-5.5 .4-5.5-.6z"/><path fill="#ff8300" d="M300.5 900.6l220 0 0-220-220 0 0 220zM405 861.6l-7.3-1.8-9.4-3.2-4.6-2.4-2.4-2.5-.7-1.2-.4-2.5 1-3 3-3.1 4.5-2.4 7-2.5 7.5-1.9 7.3-.9 5.5 .3 7.3 1.5 9.8 3.5 4.9 2.7 1.8 1.6 1.2 1.8 .6 2.4-1.1 3.7-2.1 2.5-4.1 2.4-9.1 3.2-7.4 1.8-7.3 .5-5.5-.5z"/><path fill="#ff9700" d="M300.5 900.6l220 0 0-220-220 0 0 220zM405 862.8l-7.3-1.6-11.1-3.4-4.9-2.4-2.4-2.1-1-1.6-.8-2.4 .5-3.7 1.3-2.2 1.4-1.5 4.1-2.6 6.1-2.3 10.4-2.7 7.4-1.1 7.3 .1 9.2 1.9 11 3.7 5.1 3 2.2 2.8 .8 3.3-.9 3.7-1.7 2.4-1.4 1.3-4.1 2.4-7.5 2.5-10.4 2.4-6 .6-7.3-.5z"/><path fill="#ffac00" d="M300.5 900.6l220 0 0-220-220 0 0 220zM406.8 864.1l-7.9-1.4-12.2-3.2-4.5-1.7-3.7-2.4-2.7-3.7-.6-2.4 .1-2.5 .9-2.4 1.3-2 3.7-3 7.3-3.1 11-2.8 7.3-1.2 7.4-.2 9.1 1.3 12.6 3.6 5.8 2.7 1.8 1.5 1.8 2.2 .9 2.2 .4 2.4-.8 3.7-2.3 3.4-3.7 2.8-5.9 2.4-12.4 3-7.3 1-7.4-.2z"/><path fill="#ffc000" d="M300.5 900.6l220 0 0-220-220 0 0 220zM406.8 865.2l-7.6-1.3-15.1-3.6-4.8-2.1-3.4-2.8-1.6-2.5-.9-2.4-.2-2.5 .4-2.4 2.1-3.9 4.2-3.4 6.8-2.8 12.8-3.1 9.2-1.2 7.3 0 11 1.9 12.8 3.8 4.6 2.6 3 3.7 1.1 3.6-.1 2.5-.6 2.4-2.5 4-4.3 3.3-6.7 2.6-12.8 2.9-7.3 .9-7.4-.2z"/><path fill="#ffd400" d="M300.5 900.6l220 0 0-220-220 0 0 220zM410.5 866.5l-9.2-1.1-16.5-3.5-5.5-2-3.6-2.4-1.9-2.1-1.4-2.5-.8-2.4-.1-3.7 .7-2.4 1.2-2.5 2.2-2.4 1.9-1.5 3.7-2 3.6-1.3 10.8-2.5 11.2-1.8 9.2-.2 9.2 1.4 14.6 3.8 5.5 2.7 1.9 1.6 1.6 2.2 1 2.5 .5 2.4-.7 4.9-2.4 4.3-3.7 3.3-5.5 2.6-7.3 1.9-11 2-9.2 .7z"/><path fill="#ffe900" d="M300.5 900.6l220 0 0-220-220 0 0 220zM401.3 866.5l-14.6-2.9-5.5-1.4-5.5-2.8-2.9-2.8-1.6-2.4-1-3-.4-3.2 .4-2.6 1.4-3.5 1.8-2.4 2.3-2 2.8-1.7 8.2-2.9 12.8-2.5 9.2-1.1 9.1 .1 9.5 1.5 14.4 3.7 5.5 3 1.9 1.9 1.6 2.4 .9 2.5 .3 2.4-.1 2.5-1.1 3.6-1.3 2.5-1.9 2.4-2.2 1.9-2.9 1.8-2.8 1.2-5.3 1.5-14.6 2.7-9.2 .5-9.2-.9z"/><path fill="#fffd00" d="M300.5 900.6l220 0 0-220-220 0 0 220zM403.2 867.7l-22-4.2-5.5-2.4-3.8-3.3-1.7-2.5-1.5-3.6-.4-3.7 .2-2.4 1.4-3.7 1.6-2.4 2.6-2.5 3.4-2.1 7.3-2.7 13.1-2.5 10.8-1.3 9.1 .1 9.2 1.3 15.1 3.6 5.2 2.4 2.8 2.5 1.7 2.4 1.1 2.5 .6 3.6-.4 3.7-.8 2.4-1.2 2.5-2.1 2.8-2.2 2.1-3.3 2.1-7.3 2.6-14.7 2.6-9.2 .8-9.1-.7z"/><path fill="#edff00" d="M300.5 900.6l220 0 0-220-220 0 0 220zM405 868.9l-23.8-4.1-5.5-2.2-4.5-3.6-1.9-2.4-1.7-3.7-.8-3.6 .2-3.7 1.2-3.7 1.6-2.4 2.2-2.5 3.4-2.4 5.8-2.5 9.1-2.1 14.7-2.2 11-.4 9.2 1.1 17.2 3.7 3.2 1.2 3.4 1.9 2 1.7 1.9 2.5 1.2 2.4 .8 3.7-.1 3.7-.6 2.4-1.5 3.5-1.9 2.8-2.1 2.3-3.4 2.5-3.6 1.7-3.7 1.2-12.8 2.4-11 1.2-9.2-.4z"/><path fill="#d9ff00" d="M300.5 900.6l220 0 0-220-220 0 0 220zM408.7 870.2l-9.2-1.1-18.3-3.1-5.7-2.1-4.9-3.6-2.3-2.8-1.7-3.3-1.1-3.7-.1-3.7 .8-3.6 1.9-3.7 2.1-2.5 3-2.4 6.1-3 7.4-1.9 18.3-2.7 11-.4 11 1.2 16.5 3.5 5.5 2.4 2.8 2.1 2 2.5 1.4 2.4 1 3.7 .2 2.4-.5 3.7-1.2 3.7-2 3.4-2.3 2.7-3.2 2.7-5.5 2.8-7.4 1.8-14.6 2.2-11 .4zM447.2 741.8l-7.4-1.2-5.1-1.3-5-2.5-.6-1.2 1.2-1.2 3.9-1.2 7.5-1 9.1 .2 4.9 .8 2.5 .8 3 1.6 1 1.2 .2 1.2-.5 1.3-1.6 1.2-5.8 1.4-7.3-.1z"/><path fill="#c5ff00" d="M300.5 900.6l220 0 0-220-220 0 0 220zM399.5 870.1l-16.3-2.5-5.7-1.5-5.5-2.9-3.1-2.9-1.9-2.5-1.4-2.4-1.2-3.7-.5-3.7 .4-3.6 1.4-3.7 1.6-2.4 2.9-3 3.6-2.5 7.4-2.9 11-2.1 16.5-2 11 .1 18.3 2.9 8.2 2.1 2.8 1.3 3.5 2.4 2.2 2.4 1.5 2.5 1.3 3.7 .3 3.6-.5 3.7-1 3-1.8 3.5-2.5 3.3-3 2.8-3.7 2.3-3.6 1.5-5.5 1.5-16.5 2.3-9.2 .4-11-1zM441.7 744.2l-7.5-1.3-18.2-4.2-12.5-1.9-3.8-1.2-.7-1.2 1.1-1.2 4.4-1.3 26.2-2.4 16.5-.5 7.3 .5 5.5 .9 5.5 1.9 1.8 1 2.5 2.3 1 2.4-.2 1.3-1.6 2.4-1.7 1.2-3.1 1.3-6 1-7.4 0-9.1-1z"/><path fill="#b1ff00" d="M300.5 900.6l220 0 0-220-220 0 0 220zM403.2 871.5l-19.1-2.7-6.6-1.5-5.5-2.7-4.7-4.3-2.5-3.7-1.5-3.7-.7-3.6 0-3.7 1-3.7 2.1-3.6 2.6-3 3.7-2.7 3.7-1.9 3.6-1.3 9.2-2 18.3-2.3 11-.1 17.3 2.3 10.2 2.1 6.1 2.8 3 2.4 2.1 2.4 1.8 3.7 .9 3.7 0 3.6-.8 3.7-1.5 3.7-2.4 3.6-3.3 3.7-3.2 2.5-6.3 2.9-9.4 1.9-16.3 1.9-5.5 .1-7.3-.5zM443.5 746.7l-27.5-4.7-20.2-1.9-3.2-.8-2.5-1.3-1.6-1.4-.7-2.2 .4-1.2 1-1.3 3-1.8 3.6-1.1 5.5-.9 42.2-1.5 11 .5 8.1 1.2 7.3 2.4 2.9 1.8 2 1.9 1.3 2.4 .2 2.5-1 2.4-.9 1.2-3.6 2.5-3.4 1.2-3.7 .7-9.2 .3-11-.9z"/><path fill="#9dff00" d="M300.5 900.6l220 0 0-220-220 0 0 220zM405 872.6l-20.2-2.6-7.3-1.5-5.5-2.5-5.3-4.5-2.7-3.7-1.7-3.6-1.2-4.9 .1-3.7 .9-3.7 2-3.6 2.4-2.9 3.7-3 3.6-2 3.7-1.5 9.2-2.2 18.3-2.2 12.8-.4 7.4 .7 12.8 1.9 9.2 2.1 3.6 1.6 2.8 1.8 2.7 2.4 1.9 2.4 1.7 3.7 .7 3.7 0 3.6-.8 3.7-1.6 3.7-2.2 3.6-3.2 3.7-3.8 3.1-6.3 3-8.4 1.9-18.3 2.1-11-.2zM449 749.2l-10.9-1.4-22.1-3.6-18.3-1.1-5.5-.9-3.7-1-3.8-1.9-2.4-2.5-.6-2.4 1.3-2.8 3.7-2.7 5.5-2 7.3-1.2 45.8-1 11 .5 9.2 1.4 5.5 1.7 2.7 1.2 2.8 1.8 2.1 1.9 1.5 2.4 .6 2.4-.2 2.5-1.1 2.4-2.3 2.5-1.8 1.2-2.6 1.2-3.5 1-9.2 .9-11-.5z"/><path fill="#89ff00" d="M300.5 900.6l220 0 0-220-220 0 0 220zM410.5 873.8l-9.2-.8-22-2.9-3.6-1.1-3.1-1.4-5.1-3.7-3.3-3.6-2.3-3.7-1.8-4.9-.5-3.7 .3-3.6 1.2-3.7 2.2-3.7 3.6-3.6 3.3-2.3 3.6-1.9 3.7-1.4 5.5-1.3 20.2-2.7 12.8-.6 11 1 18.7 3.1 3.8 1.2 3.2 1.5 3 2.2 2.4 2.4 2.4 3.7 1.3 3.6 .4 3.7-.4 3.7-1.1 3.6-2.5 4.9-2.8 3.7-3.8 3.7-2.6 1.8-3.7 1.9-7.3 2.2-16.5 2.2-11 .5zM458.2 751.5l-14.7-1.3-27.5-4.3-18.3-.8-7.4-.9-7.3-2.4-3.8-2.5-1.9-2.5-.4-1.2 .2-2.4 1.5-2.5 1.3-1.2 4.1-2.5 6.3-2 7.4-1.2 11-.5 38.5-.2 11 .5 9.1 1.4 5.5 1.5 3.7 1.6 2.4 1.4 2.8 2.4 1.7 2.5 .9 2.4 .1 2.5-.5 2.4-1.2 2.5-2.2 2.4-2.2 1.5-3.6 1.7-7.4 1.5-9.1 .2z"/><path fill="#71ff00" d="M300.5 900.6l220 0 0-220-220 0 0 220zM401.3 873.9l-18.3-2.1-7.3-1.7-3.7-1.6-3.3-2.1-2.9-2.5-3-3.4-2.4-3.9-1.4-3.7-.8-4.9 .2-3.6 1.2-3.7 2.1-3.7 3-3.3 3.6-2.8 7.4-3.5 9.1-2.2 22-2.5 12.9-.1 20.1 2.5 9.2 2 3.7 1.5 3.6 2.3 2.6 2.5 1.9 2.4 1.8 3.7 .9 3.7 .1 3.6-1 4.9-2.3 4.9-2.4 3.7-3.4 3.7-4.5 3.6-6.5 3.1-5.5 1.4-5.5 .8-18.3 1.7-12.9-.7zM454.5 752.8l-12.8-1.4-25.7-3.9-20.2-.8-8.9-1.3-7.1-2.5-4-2.4-2-2.1-.8-1.6-.4-1.2 .1-2.4 1.1-2.2 1.3-1.5 2.4-1.8 3.4-1.9 7.6-2.4 7.7-1.2 12.5-.6 40.3-.1 12.8 .8 9.2 1.6 5.5 1.8 3 1.3 3.6 2.5 2.4 2.4 1.4 2.5 .8 3.6-.2 2.8-1.3 3.4-1.7 2.4-2.8 2.4-3.4 1.9-3.6 1.2-3.7 .7-5.5 .4-11-.4z"/><path fill="#53ff00" d="M300.5 900.6l220 0 0-220-220 0 0 220zM403.2 875l-20.2-2.2-7.3-1.5-3.7-1.6-3.5-2.1-5.7-5.2-3.2-4.6-1.7-3.6-1.2-4.9 0-3.7 1.3-4.9 2-3.7 2.8-3.3 3.4-2.8 4-2.3 3.6-1.6 9.2-2.4 20.2-2.4 14.6-.5 20.2 2.1 11 2.2 3.7 1.3 3.6 2.1 3.3 2.8 2.1 2.4 2.1 3.7 1.3 4.9 0 3.6-1.1 4.9-1.6 3.7-3.1 4.9-4.5 4.9-4 3.1-3.6 2-3.7 1.5-9.2 1.9-18.3 1.7-5.5 .1-7.3-.5zM452.7 754.1l-34.9-4.9-7.3-.6-16.5-.5-9.6-1.5-7.2-2.4-3.4-1.9-2.3-1.8-2.6-3.7-.2-3.6 2.1-3.7 4.9-3.7 3.6-1.6 5.5-1.8 9.2-1.7 12.8-.6 44 0 12.9 .8 9.1 1.6 5.5 1.7 3.7 1.7 3.7 2.5 3.1 3.5 1.2 2.5 .7 3.6-.4 3.7-1.6 3.7-1.7 2.4-3.2 2.8-3.6 1.9-3.7 1.2-9.2 1.2-14.6-.8z"/><path fill="#35ff00" d="M300.5 900.6l220 0 0-220-220 0 0 220zM406.8 876.2l-23.8-2.4-7.3-1.4-3.7-1.5-3.7-2.1-5.7-4.9-3-3.6-2.8-4.9-1.5-4.9-.3-3.7 .9-4.9 1.6-3.6 2.7-3.7 4-3.7 3.9-2.4 3.9-1.8 9.2-2.7 7.3-1.1 14.7-1.5 14.6-.5 20.2 2 11 1.9 3.7 1.3 3.6 1.8 3.7 2.7 2.6 2.8 2.4 3.6 1.4 3.7 .5 3.7-.6 4.9-1.8 4.9-2.9 4.8-4 4.9-4.1 3.7-6.3 3.8-3.7 1.4-5.5 1.3-18.3 2-12.9 .1zM465.5 756.4l-18.3-1.6-29.4-4.3-7.3-.6-16.5-.3-11-1.6-8.1-2.6-6.2-3.7-3.1-3.7-.8-2.4 .1-2.4 1-2.5 2-2.4 5.4-3.7 7.9-3 11-2.2 14.6-.8 44 .1 12.9 .7 9.8 1.5 4.8 1.3 5.5 2.3 3.7 2.3 1.8 1.7 1.9 2.2 1.7 3.7 .5 3.6-.4 3.7-1.4 3.7-2.3 3.4-2.8 2.7-2.7 1.7-3.6 1.5-3.7 1-5.5 .6-5.5 .1z"/><path fill="#17ff00" d="M300.5 900.6l220 0 0-220-220 0 0 220zM397.7 876.2l-16.5-1.6-4.5-.9-3.8-1.2-4.6-2.4-3.5-2.5-3.8-3.7-3-3.6-2.8-4.9-1.3-3.7-.6-4.9 .5-3.6 2-4.9 2.6-3.7 3.8-3.7 3.6-2.4 8.3-3.7 10.7-2.3 23.9-2.2 7.3-.2 7.3 .3 20.2 2.3 9.2 2.2 5 2.4 3.4 2.4 2.4 2.5 2.7 3.6 1.6 3.7 .8 4.9-.4 3.6-1.6 4.9-2.7 4.9-3.8 4.9-5 4.9-4.3 3-3.6 1.9-5.5 1.8-11 1.7-18.4 1.3-14.6-1.1zM461.8 757.6l-18.3-2.1-25.7-3.8-7.3-.5-16.5-.3-6.7-.6-6.5-1.3-7.9-2.4-6.8-3.7-2.7-2.4-1.6-2.5-.7-2.4 .1-2.4 .9-2.5 1.8-2.4 2.8-2.5 4.3-2.4 4.7-1.9 5.5-1.6 11-1.9 14.6-.7 45.9 .1 12.8 .7 11 1.9 5.5 1.6 4 1.8 3.9 2.4 3.1 3.2 1.8 2.9 1 3.7 .1 3.7-1.1 4.9-1.8 3.6-1.8 2.5-3.7 3.2-3.7 2-3.6 1.2-5.5 1-5.5 .2-7.4-.3z"/><path fill="#00ff06" d="M300.5 900.6l220 0 0-220-220 0 0 220zM401.3 877.4l-20.1-1.8-7.4-1.6-5.5-2.6-3.6-2.5-4.3-3.7-3.2-3.7-2.5-3.7-2.3-4.9-.9-4.9 .3-3.6 1.5-4.9 2.2-3.7 3.3-3.6 4.8-3.7 4.5-2.5 3.9-1.5 5.5-1.6 5.5-1.1 23.8-2.2 14.7-.1 22 2.2 9.2 2 5.3 2.3 3.7 2.5 2.8 2.4 2.9 3.7 2.3 4.9 .7 3.7-.1 3.6-1.5 4.9-2.5 4.9-3.6 4.9-4.7 4.9-5.3 4.2-3.7 2.1-3.7 1.5-9.1 2.1-20.2 1.8-7.3-.1-7.4-.6zM461.8 758.9l-20.1-2.5-23.9-3.5-7.3-.5-18.3-.3-7.4-.8-7.3-1.5-9.4-3.2-6.1-3.7-2.5-2.4-1.5-2.5-.6-2.4 .1-2.4 .9-2.5 1.6-2.4 2.5-2.5 4-2.5 5.3-2.4 5.7-1.7 12.8-2.4 14.7-.8 49.5 .2 12.8 .7 11 1.9 5.5 1.6 5.5 2.5 3.7 2.6 2.5 2.8 2 3.6 .8 3.7-.1 4.9-1.4 4.9-2 3.7-3 3.6-4.3 3.2-3.7 1.7-3.6 1-5.5 .7-5.5 .1-7.4-.5z"/><path fill="#00ff24" d="M300.5 900.6l220 0 0-220-220 0 0 220zM405 878.7l-23.8-2.1-7.4-1.5-5.5-2.4-3.6-2.4-4.8-3.9-3.5-3.7-3.6-4.9-1.8-3.6-1.3-4.9 0-3.7 1.2-4.9 1.8-3.7 4.1-4.8 4.2-3.5 4.6-2.7 4.6-1.9 5.5-1.7 5.5-1.2 22-2.1 16.5-.5 22 2 11 2 5.5 2.1 3.6 2.2 3.6 2.8 3.3 3.7 2.2 3.6 1.4 4.9 .1 3.7-1.2 4.9-2.5 4.9-4.5 6.1-4.6 4.9-5.1 4.1-7.3 4.1-3.7 1.2-5.5 1.2-20.2 1.9-12.8-.2zM461.8 760.2l-44-6.2-7.3-.5-18.3-.1-9.2-1-7.3-1.5-9.7-3.1-4.9-2.4-3.4-2.5-2.2-2.4-1.3-2.5-.5-2.4 .2-2.4 1.5-3.7 1.9-2.5 2.7-2.4 4-2.4 4.3-1.9 5.6-1.8 7.3-1.7 7.3-1.1 16.5-1 51.3 .3 12.9 .7 11 1.9 6.9 2.1 4.9 2.5 3.3 2.4 3.1 3.7 1.6 3.6 .8 4.9-.6 4.9-1.6 4.9-2 3.7-3.6 4.2-3.7 2.7-3.6 1.7-5.5 1.4-5.5 .6-12.9-.7z"/><path fill="#00ff42" d="M300.5 900.6l220 0 0-220-220 0 0 220zM410.5 879.8l-27.5-2-7.3-1.1-5.2-1.8-4-2-4.1-2.9-4.3-3.6-4.6-4.9-3.4-4.9-1.6-3.7-.9-4.9 .5-4.8 1.9-4.9 3.5-4.9 3.9-3.7 3.6-2.5 5.5-2.8 5.5-2 5.5-1.4 14.7-1.9 16.5-1.1 9.1-.2 23.9 1.8 11 1.8 5.5 2 3.6 1.9 4.5 3.2 3.7 3.7 2.5 3.6 1.8 4.9 .2 3.7-.9 4.9-2.3 4.9-3.4 4.8-5.5 6.2-4.2 3.7-7.4 5-3.6 1.7-5.5 1.6-5.5 1-11 1-14.7 .6zM461.8 761.4l-42.1-6.1-7.4-.6-22-.3-9.1-1-9.4-1.9-10.8-3.7-6.4-3.6-2.5-2.5-1.5-2.4-.7-2.5 .2-3.6 1.6-3.7 2.9-3.7 3-2.4 4.2-2.5 4.7-1.9 5.8-1.7 14.4-2.8 16.5-1 53.1 .2 14.7 .8 11 1.9 6.9 2.1 5.1 2.4 3.3 2.5 3.2 3.6 2 4.9 .5 4.9-.8 6-1.9 5-2 3.7-3.5 4.1-3.6 2.8-3.7 1.8-5.5 1.5-5.5 .6-7.3-.1-7.4-.8z"/><path fill="#00ff60" d="M300.5 900.6l220 0 0-220-220 0 0 220zM399.5 879.9l-20.2-1.5-5.1-1-3.6-1.2-4.8-2.5-5.4-3.7-5.6-4.8-4.5-4.9-3.1-4.9-1.3-3.7-.5-3.7 .5-4.8 1.9-4.9 2.4-3.7 3.5-3.7 5.5-4 3.6-2.1 5.9-2.4 5.1-1.6 7.4-1.4 9.1-1 18.4-1.2 16.5 .1 22 2 9.1 2.1 5.3 2.2 4.1 2.4 4.5 3.7 4 4.9 1.8 3.7 .8 4.9-.7 4.8-2.1 4.9-3.3 4.9-5.5 6.1-6.8 6.1-5.3 3.7-4.1 2.1-3.7 1.4-5.5 1.4-5.5 .7-20.1 1.4-14.7-.8zM472.8 763.8l-11-1.2-42.1-6.3-7.4-.6-16.5 .1-7.3-.3-9.2-1.1-9.1-1.7-11.9-3.7-5.2-2.4-3.1-2.1-2.5-2.8-1.2-2.4-.4-2.5 .4-3.6 1.6-3.7 2.9-3.7 4.4-3.6 4-2.3 5.5-2.2 5.5-1.5 14.6-2.7 9.2-.9 9.2-.3 55 .2 14.6 .9 11 1.8 5.5 1.6 5.5 2.3 3.7 2.4 3.2 3.1 2.1 3.7 1.1 3.6 .3 4.9-.7 4.9-1.5 4.9-2.7 5.4-3.4 4.4-3.9 3.2-3.7 1.9-5.5 1.6-5.5 .7-5.5 0z"/><path fill="#00ff7d" d="M300.5 900.6l220 0 0-220-220 0 0 220zM403.2 881.2l-23.9-1.8-4.7-.8-3.9-1.2-5.1-2.5-5.6-3.6-7.5-6.1-4.7-4.9-2.5-3.7-1.8-4.9-.4-4.9 .9-4.9 2.2-4.9 2.7-3.6 3.8-3.7 4.6-3.3 5.3-2.8 5.7-2.2 5.5-1.6 7.4-1.3 9.1-1 18.4-1.1 9.1-.2 9.2 .4 20.2 1.8 5.5 .8 5.5 1.6 5.5 2.3 4.7 2.9 5.7 4.9 2.8 3.7 1.7 3.7 .7 4.9-.9 4.8-2.3 4.9-3.4 4.9-5.8 6.1-6.9 6.1-5.1 3.7-7.7 3.9-9.2 2.2-20.2 1.7-7.3 .1-7.3-.4zM471 765l-51.3-7.7-7.4-.5-16.5 .2-9.1-.5-11.2-1.3-10.8-2.2-12.9-4-3.6-1.8-2.6-1.8-2.2-2.5-1.2-2.4-.5-2.5 .3-3.6 2.1-4.9 2.8-3.7 4.2-3.6 3.8-2.5 4.3-2 5.5-1.8 7.3-1.7 9.2-1.6 9.1-1 11-.5 56.9 .2 14.6 .7 12.9 2 6.8 2 5.4 2.5 3.5 2.4 3.2 3.7 1.8 3.7 .9 4.9-.1 4.8-1.3 6.2-2.4 6.1-3 4.9-3.8 4.1-3.7 2.5-3.7 1.7-5.5 1.4-5.5 .4-7.3-.3z"/><path fill="#00ff9b" d="M300.5 900.6l220 0 0-220-220 0 0 220zM406.8 882.3l-27.5-1.8-7.3-1.5-5.5-2.3-5.1-3-8.5-6.1-5.7-4.9-3-3.7-2.5-4.8-1-4.9 .3-4.9 1.5-4.9 2.9-4.9 3.3-3.7 4.5-3.6 6-3.5 5.5-2.4 5.5-1.7 7.3-1.6 11-1.3 16.5-1 11-.3 9.2 .2 23.8 1.9 5.5 .9 5 1.4 5.8 2.5 6.1 3.6 4.4 3.7 3.2 3.7 1.9 3.6 .9 4.9-.6 4.9-2 4.9-3.4 4.9-4.5 4.9-8.1 7.3-6.5 4.9-7.7 4.2-3.7 1.3-5.5 1.3-18.3 1.7-14.7 .1zM471 766.3l-51.3-8-7.4-.5-16.5 .3-11-.6-14.6-1.8-14.7-3-8.3-2.4-2.7-1.3-3.4-2.4-2-2.4-1.1-2.5-.6-2.4 .2-3.7 1.8-4.9 2.5-3.7 3.6-3.6 5-3.7 4.7-2.4 5.8-2.2 6.1-1.5 8.6-1.6 12.8-1.5 11-.5 56.8 .1 16.5 .6 14.7 2.1 7 2 5.5 2.5 4 2.8 2.8 3.3 1.7 3.6 .9 4.9-.2 6.1-1.3 6.2-2.4 6.1-3.3 5.8-3.7 4.2-3.7 2.7-3.9 1.9-5.2 1.4-7.4 .5-7.3-.5z"/><path fill="#00ffb2" d="M300.5 900.6l220 0 0-220-220 0 0 220zM394 882.3l-16.5-1-5.5-1.1-3.7-1.4-7.3-3.9-10.9-7.3-4.7-3.7-4.1-4.9-2.3-4.8-.8-4.9 .3-4.9 1.5-4.9 2.8-4.9 3.2-3.7 4.4-3.6 5.1-3.2 6.4-2.9 6.4-2.1 7.4-1.7 9.1-1.2 31.2-1.5 11 .3 16.5 1.1 12.8 1.7 5.5 1.6 4.3 1.8 4.7 2.4 5.5 3.7 3.9 3.6 2.6 3.7 1.5 4.9 0 4.9-1.5 4.9-2.8 4.9-4.1 4.8-8 7.4-7.7 6.1-7.5 4.7-3.7 1.7-5.5 1.8-11 1.6-20.2 1.1-18.3-1.1zM469.2 767.4l-49.5-8.1-9.2-.5-16.5 .3-11-.6-14.7-1.7-20.1-3.2-6.6-2.1-2.6-1.5-2.6-2.2-1.8-2.4-1.3-3.7-.3-2.4 .3-3.7 1.3-3.7 3.2-4.9 3.5-3.6 5-3.9 5.5-3 5.5-2.1 7.4-1.9 7.3-1.3 12.8-1.6 12.9-.8 60.5 .1 18.3 .8 7.3 .9 7.4 1.4 7.3 2.3 5.5 2.9 3.7 3.2 2.5 4.2 1.3 4.9 0 6.1-1.1 6.1-2.4 7.3-2.3 4.9-3.5 5.4-3.7 3.6-3.7 2.4-5.5 2.1-5.5 .8-7.3 0-7.3-.8z"/><path fill="#00ffc3" d="M300.5 900.6l220 0 0-220-220 0 0 220zM397.7 883.5l-20.2-1-5.5-1.1-3.7-1.3-7.3-3.7-12.5-7.6-5.1-3.6-3.6-3.7-2.7-4.9-1.3-4.9-.1-6.1 1.1-4.9 2.4-4.9 2.7-3.6 4.4-4.2 5.5-3.7 6.5-3.1 8.2-2.8 7.3-1.7 9.2-1.3 33-1.5 26.3 1.1 14 1.6 5.5 1.4 5.3 1.9 5.2 2.5 6 3.6 4.3 3.7 2.7 3.7 1.8 4.9 .1 4.9-1.8 6.1-2.9 4.9-4.2 4.8-6.8 6.2-9.6 7.3-7.4 4.8-5.2 2.5-4 1.4-9.1 1.7-22 1.4-16.5-.8zM480.2 769.9l-9.2-.9-18.3-3.4-33-5.3-7.4-.5-16.5 .4-11-.4-36.1-3.4-6-1-3.7-1.1-3.2-1.6-2.3-1.8-1.8-2.1-1.9-3.3-.7-2.6-.4-3.6 .4-3.7 1.8-4.9 2.4-3.7 5-4.8 5.1-3.7 4.8-2.7 5.5-2.3 7.3-2 7.3-1.3 14.7-1.7 12.8-.8 62.4-.1 18.3 .7 9.2 1.1 7.3 1.3 6 1.7 5 2.1 3.7 2.4 2.7 2.8 2.1 3.7 1.1 4.9 .1 4.9-.8 6.1-2.1 7.3-3 7.3-3.8 6.1-3.3 3.7-4 2.9-5.5 2.3-5.5 .9-5.5 .1z"/><path fill="#00ffd3" d="M300.5 900.6l220 0 0-220-220 0 0 220zM401.3 884.7l-22-.9-5.5-.8-3.6-1-7.4-3.1-16.2-8.9-3.9-2.4-4.3-3.7-3.1-4.6-1.8-5.1-.7-6.2 .9-6.1 1.9-4.9 3.3-4.8 3.8-3.9 5.5-3.9 6.2-3.2 8.4-3.1 7.5-1.8 9-1.4 12.9-1 22-.8 11 .1 14.6 .8 16.5 1.5 5.5 1.2 6.4 2 6.5 2.8 5.9 3.3 4.6 3.7 2.9 3.7 1.9 4.8 .1 4.9-1.5 6.1-3.5 6.2-4.2 4.8-5.6 4.9-11.6 8.6-7.4 4.8-4.7 2.5-4.4 1.9-9.2 2-22 1.5-14.7-.5zM476.5 771.1l-25.7-4.8-31.1-5.1-7.4-.4-23.8 .4-27.5-1.9-16.5-.5-5.5-.8-3.7-1.2-3-1.6-2.5-2.1-2.2-2.8-1.8-3.7-.9-3.7-.2-4.9 .6-3.6 1.9-4.9 2.5-3.7 3.7-3.6 5-3.7 6.6-3.7 5.9-2.4 6.4-1.9 7.4-1.3 16.5-1.9 14.6-.8 64.2-.1 20.2 .9 9.1 1.1 7.4 1.3 5.5 1.6 5.5 2.5 4.2 3.5 2.4 3.6 1.4 4.9 .2 4.9-.9 7.3-1.9 7.4-2.8 7.3-3.2 6.1-3.6 4.9-4.2 3.7-4.5 2.4-5.5 1.4-5.5 .4-7.3-.5z"/><path fill="#00ffe4" d="M300.5 900.6l220 0 0-220-220 0 0 220zM406.8 886l-27.5-1.1-7.3-1.1-7.3-2.6-20.5-9.9-4.2-2.5-2.8-2.3-3.7-4.7-2.2-5.2-1.2-6.1 .2-6.1 1.7-6.1 2.7-4.9 4.3-4.9 4.6-3.7 6.6-3.6 7.1-2.9 7.4-2 9.1-1.8 11-1.1 16.5-.7 16.5-.4 12.9 .3 23.8 1.5 6.1 .9 6.7 1.8 8.7 3.1 7.4 3.7 4.8 3.7 2.9 3.6 2 4.9 .2 4.9-1.5 6.1-3.2 6.1-3.9 4.9-5.3 4.9-17.4 12.2-5.7 3.5-5.5 2.9-3.6 1.4-5.5 1.4-7.4 1-11 .7-16.5 .2zM474.7 772.3l-23.9-4.9-23.8-4.2-9.2-1.1-7.3-.2-20.2 .4-29.3-1.3-18.3 .7-7.4-.9-3.6-1.4-3.7-2.4-1.9-1.8-2.4-3.7-1.5-3.7-1-4.9-.1-4.9 .7-4.8 1.8-4.9 2.3-3.7 3.6-3.7 4-2.8 7.3-4 7.1-2.9 7.6-2.2 7.3-1.2 16.5-1.7 14.7-.8 67.8-.1 22 1 9.2 1.1 7.5 1.4 7.2 2.4 4.4 2.5 2.9 2.9 2.2 4.4 .9 6.1-.6 7.4-1.9 8.5-3 8.6-3.1 6.7-3.7 5.8-3.6 3.9-3.7 2.5-5.5 2.1-5.5 .8-5.5-.1-7.3-.9z"/><path fill="#00fff4" d="M300.5 900.6l220 0 0-220-220 0 0 220zM377.5 885.9l-5.5-.8-5.2-1.6-13.1-6-12.9-5.1-3.6-2.2-3-2.6-1.9-2.4-2.2-3.7-2.1-6.1-.9-6.1 .4-6.1 1.8-6.2 2.7-4.8 3.3-3.9 5.5-4.4 5.5-3.1 7.4-3 7.3-2.1 9.2-1.8 11-1.2 36.6-1.2 33 1.1 7.4 .8 7.3 1.3 7.3 2 7.4 2.6 5.5 2.5 4.5 3 2.6 2.5 2.5 3.6 1 2.5 .6 3.6-.8 6.2-2.5 6.1-5.1 7.3-4.8 4.9-6.5 4.9-17.2 11-7.3 4.1-5.5 2.2-5.5 1.4-7.4 1-9.1 .6-14.7 .4-33-1.2zM482 774.9l-7.3-1.1-23.9-5.3-23.8-4.3-9.2-1.2-7.3-.1-18.3 .5-29.4-.6-22 2.1-7.3-.7-4.7-1.7-3.6-2.5-2.7-2.9-2.5-4.4-1.5-4.9-.8-6.1 .2-6.1 .9-4.9 1.8-4.9 2.4-3.6 3.2-3.3 4.2-2.9 7.6-3.6 8.3-3.1 7.4-1.9 7.3-1.1 18.3-1.6 14.7-.7 71.5-.1 12.8 .4 11 .9 9.2 1.1 7.3 1.6 5.5 2 3.9 2.5 3.1 3.6 1.5 3.7 .6 4.9-.5 7.3-1.9 8.6-2.7 8.5-3 7.4-3.1 6.1-3.4 4.8-3.6 3.5-3.7 2.2-5.5 1.7-5.5 .5-5.5-.3z"/><path fill="#00f9ff" d="M300.5 900.6l220 0 0-162.8-3 10-3.3 8.6-2.9 6.1-3.8 6.1-3.5 3.8-3.7 2.4-5.5 1.9-5.5 .5-5.5-.3-5.5-.8-25.6-6.2-25.7-4.8-9.2-1.1-7.3-.1-16.5 .6-29.3-.1-7.4 .7-16.5 3.2-5.5 .1-3.6-.4-3.7-1.1-3.7-2-2.8-2.4-2.7-3.5-1.8-3.9-1.4-4.8-.8-4.9-.2-4.9 .4-7.3 1.7-7.4 2.3-4.9 3.5-4 5.5-3.6 8.2-3.4 10.1-3 9.9-1.9 15.8-1.3 22-1 69.7-.1 18.3 .5 16.5 1.4 11 2 3.7 1.2 3.6 1.9 2 1.6 1.7 2.1 0-32.7-220 0 0 220zM377.5 887.2l-5.5-.8-3.7-1-14.6-6-14.7-4.8-3.7-2.1-2.9-2.5-2.1-2.4-2.3-3.7-2.5-6.1-1.2-6.1-.1-7.3 1.2-6.1 2.7-6.1 3.6-4.6 4.7-4 6.3-3.7 7.3-2.9 9.2-2.5 9.1-1.6 11-1.2 38.5-1.1 34.9 1.1 9.1 .9 6.9 1.2 9.7 2.5 7.2 2.4 5.1 2.5 3.7 2.4 2.7 2.4 2.5 3.7 .9 2.5 .4 3.6-1 6.1-2 4.9-2.1 3.7-5.5 7.3-5.2 4.9-5 3.7-20.2 12.2-7.2 4-3.7 1.5-5.5 1.7-5.5 .9-9.2 .8-16.5 .6-18.3-.7-16.5-.2z"/><path fill="#00e9ff" d="M300.5 900.6l220 0 0-156.9-6.6 17.6-3 6.1-3.2 4.7-3.7 3.6-3.7 2.1-3.6 1.1-5.5 .6-5.5-.4-5.5-.9-27.3-7.2-25.9-4.9-9.2-1.1-51.3 1-9.5 1.4-18 4.8-5.5 .3-5.5-.6-3.7-1.3-3.6-2.2-2.4-2.2-2.5-3.7-2-4.9-1.3-4.9-.8-6.1-.3-6.1 .5-8.6 1.5-7.3 2.4-6.1 3-4.1 4.5-3.2 5.9-2.5 11.6-3.1 9.2-1.8 14.7-1.4 25.6-1 86.2 0 18.3 .9 12.9 1.3 7.3 1.6 5.5 2.7 0-27.3-220 0 0 220zM377.5 888.5l-5.5-.7-3.7-.9-14.6-5.5-16.5-4.3-3.7-2-3.2-2.6-2.3-2.6-2.4-3.5-3.2-7.4-1.5-7.3-.2-7.3 1.2-7.4 2.6-6.1 3.5-4.7 4.4-3.8 6.3-3.7 7.6-3 9.2-2.3 9.2-1.5 11-1.1 14.6-.6 27.5-.4 36.7 .8 9.2 .8 8 1.2 10.3 2.2 7.3 2.1 5.5 2.3 5.3 3.2 2.8 2.4 2.5 3.7 .7 2.4 .2 2.5-.7 3.6-1.2 3.7-2.4 4.9-3 4.9-7 8.5-5.4 4.9-5.3 3.7-28.6 16.1-3.7 1.5-5.5 1.6-11 1.4-20.2 .9-18.3-.6-16.5 0z"/><path fill="#00d8ff" d="M300.5 900.6l220 0 0-62.6-1.8-1.4-1.9-.6-1.8 .2-1.8 1.1-1.9 1.7-10.7 13.9-6.7 7.4-5.8 4.9-5.7 3.6-15.1 7.9-11 6.2-7.3 3.4-9.2 2.3-16.5 1.2-12.8 .3-16.5-.5-14.7 .3-5.5-.3-7.3-1.6-12.8-4.6-14.7-2.4-3.7-1.1-3.6-1.8-4-3.2-3.2-3.6-3.1-4.9-2.1-4.9-1.4-4.9-.8-4.9-.3-6.1 .8-8.6 1.8-6.1 2.6-4.9 4.2-4.4 5.5-3.7 6.9-2.9 7.7-2.1 11-1.8 16.5-1.4 22-.6 33-.1 33 .8 12.9 1.2 12.8 2 11 3 12.8 4.9 3.7 .4 1.8-.4 3.7-2 0-70.2-5.7 15-2.9 6.1-2.4 4-2.8 3.4-2.7 2.1-3.7 1.8-3.6 .8-5.5 .1-7.4-1-30.5-8.7-26.3-5.2-11-1.2-20.2 .8-20.1 .4-9.2 .6-9.7 2.1-17.8 6.6-5.5 1-3.7 .2-5.5-.6-3.6-1.2-3.7-2.3-3.7-4.4-2.4-5.4-1.5-6.1-1-7.3-.4-8.6 .2-7.3 .8-7.4 1.2-6.1 1.7-4.9 2.1-3.6 3-3.1 3.7-2.2 3.6-1.3 12.9-2.6 14.6-1.9 12.9-.7 25.6-.6 97.2 .2 22 1.3 5.5 .7 5.5 1.3 0-22.9-220 0 0 220z"/><path fill="#00c8ff" d="M300.5 900.6l220 0 0-55.5-1.8-.8-1.9-.3-1.8 .3-3.7 1.9-3.6 3.2-11.9 12.1-4.5 3.7-5.5 3.6-18.5 9.2-12.8 7.1-7.3 3-9.2 1.8-16.5 1-11 .3-18.3-.4-14.7 .6-3.7-.2-5.5-1-12.8-4.1-3.7-.8-12.8-.8-3.7-.6-4.4-1.6-4-2.5-4.1-3.6-3-3.7-4.1-7.3-1.7-4.9-1.3-6.1-.8-11 .4-7.4 1.4-7.3 1.8-4.9 2.3-3.7 3.9-3.6 4.4-2.5 5.6-1.8 7.3-1.5 11-1.2 16.5-.8 58.7-.5 47.6 .7 16.5 1 20.2 2.1 5.5-.1 5.5-.7 0-57.6-5.5 14.8-4.5 9-2.8 3.6-1.9 1.7-1.8 1.2-3.7 1.3-5.5 .4-7.3-1.1-9.2-2.6-16-5.8-8.8-2.4-26.5-5.4-7.3-1-5.5-.2-36.7 1.5-12.1 1.4-8.1 2.5-14.6 7.5-7.4 3.1-9.1 2.4-7.4 .6-3.6-.6-3.7-1.9-2.2-2.6-2.2-4.9-1.5-6.1-1-7.3-.8-19.6 .9-19.5 .8-6.1 1.1-4.9 2.2-4.9 2.1-2.5 2.4-1.7 3.7-1.4 5.5-1.1 11-.9 14.7-.9 16.5-.3 119.1-.1 23.9 .4 12.8 .7 0-19.1-220 0 0 220z"/><path fill="#00b5ff" d="M307.3 900.6l213.2 0 0-50.2-3.7-1-3.6 .9-5.5 3.6-12.9 11.3-7.6 4.8-18 8.3-18.4 9.6-5.5 1.8-7.3 1.3-22 1.2-22-.1-18.3 .9-7.4-.9-12.8-3.7-3.7-.5-5.5-.1-11 .7-3.6-.6-5.5-2.1-4-2.3-10.7-7.2-1.8-.8-1.9 .7-.8 2.4-.6 3.7-.1 9.7 1 8.6zM361.3 806.5l49.2 .6 53.2-.3 22-1.1 22-2.7 5.5 .5 7.3 1.1 0-46.4-5.5 15.9-3.7 8.5-3.6 5.2-1.9 1.5-3.6 1.4-5.5-.3-5.5-1.5-7.4-2.6-18.6-7.9-8.9-2.9-23.8-5.4-9.2-1.6-11-.5-31.1 1.6-9.2 .9-7.3 1.6-5.5 2.2-5 2.9-11.2 8.5-7.9 7.3-1.6 2.5-.8 2.4 .6 2.5 1.1 1.2 1.9 1.2 3.3 1.2 8.6 1.6 13.1 .9zM362.2 696.5l88.6 .7 51.4-.4 18.3-.5 0-15.7-213.2 0 1.5 4.9 2.2 3.7 2.8 2.4 3.2 1.4 5.5 1.2 11.5 1.1 28.2 1.2z"/><path fill="#00a1ff" d="M323.3 900.6l197.2 0 0-45.5-3.7-1-1.8 .1-3.7 1.4-3.6 2.3-10.8 8.5-5.9 3.6-4.9 2.5-16.9 7.1-16.5 8.8-7.4 2.5-5.5 1.1-7.3 .6-18.3 .8-20.2 0-18.3 1.5-7.4-.6-12.8-3.1-5.5-.3-6 1.1-8.7 2.9-10.1 2-1.7 1.3-.4 1.2 .2 1.2zM374.4 805.3l15.9 .6 29.4 .3 29.3-.4 12.8-.6 10.6-1.2 9.6-2.2 3.3-1.4 1.7-1.2 1-1.3 .5-1.2-.7-2.4-2.3-2.5-9.2-6.1-12.1-6.1-6.7-2.4-6.7-1.9-22-4.9-9.1-1.2-7.4-.1-29.3 1.8-7.3 .8-5.5 1.1-5.8 1.9-4.5 2.5-4.8 3.6-3.5 3.7-3.4 4.9-1.5 3.6-.2 2.5 .9 2.4 2.6 2.5 2.4 1.2 3.7 1.2 6.1 1.2 12.2 1.3zM519.9 797.9l.6 .4 0-34.8-4.4 16.1-1.4 8.6 .1 2.4 .7 2.4 1.6 2.5 2.8 2.4zM392.6 695.3l74.7 .4 33-.9 16.5-1.1 3.7-.5 0-12.6-197.2 0 1 1.9 1.7 1.8 4 2.4 8.8 3.7 5.7 1.6 5.5 1 7.3 .7 35.3 1.6z"/><path fill="#008eff" d="M343.6 900.6l176.9 0 0-41-3.7-1.2-1.8 .1-3.7 1.1-3.6 2.1-8.5 5.9-6.4 3.7-21.8 8.8-16.5 8.7-5.5 2.4-3.7 1-5.5 1-7.3 .7-18.3 .8-22 .4-18.4 2.2-5.5-.3-11-2.1-3.6-.2-3.7 .7-3.3 1.5-1.5 1.3-1.6 2.4zM379.8 804l14.2 .7 27.5 .5 23.8-.6 12.9-.7 9.1-1.4 6.8-2.1 3.8-2.5 .9-1.2 .4-2.4-1-2.5-3.3-3.6-5-3.7-6.8-3.7-10.4-3.6-20.2-4.9-9.2-1.7-7.3-.5-33 2.4-7 1-4.8 1.2-3.3 1.2-4.5 2.5-3 2.4-3.2 3.7-2.1 3.7-.9 3.6 .2 2.5 1.2 2.4 2.8 2.5 2.4 1.2 3.5 1.2 5.5 1.2 10 1.2zM520 789.4l.5 1.1 0-19.8-1.2 6.5-.4 4.8 .2 3.7 .9 3.7zM445.8 694l19.7 .2 18.3-.6 20.2-1.1 12.8-1.5 3.7-.8 0-9.6-176.9 0-.3 1.2 .7 2.5 2.4 2.4 5.4 2.4 6.6 1.3 35.6 3 51.8 .6z"/><path fill="#007bff" d="M375.9 900.6l144.6 0 0-36.4-3.7-1.5-1.8 0-3.7 .9-16.6 8.9-22.9 8.5-5.1 2.5-12.2 6.8-5.5 2.2-3.7 1.1-11 1.5-42.1 1.8-7 1.3-9.3 2.4zM411.5 804l22.8-.2 16.5-.8 9.2-1.1 6-1.5 4.8-2.5 2.1-2.4 .3-2.5-.8-2.4-3.2-3.7-3.2-2.4-6-3.2-9.2-3.2-22-5.5-7.3-1.1-7.3-.2-33 3.1-6.6 1.5-4.4 1.8-3.7 2.3-3.3 3.3-2.2 3.6-.8 3.7 .8 3.7 1.9 2.4 1.8 1.3 3.6 1.7 9.2 2.3 11 1.2 23 .8zM399 691.6l66.5 1 14.7-.5 22-1.5 11-1.4 7.3-1.8 0-6.8-144.6 0-7.6 1.5-7.3 .6-.8 .3 2 1.3 19 5.3 7.3 1.2 10.5 .8z"/><path fill="#0068ff" d="M388.4 900.6l132.1 0 0-31.6-3.7-1.9-1.8-.2-3.7 .6-14.4 6.2-24.1 8.3-5.8 2.7-12.5 7.1-9.2 3.4-9.1 1.4-38.5 2.1-5 .7-4.3 1.2zM409.2 802.8l21.5 .1 18-1.3 7.6-1 5.7-1.4 4.5-2.5 1.7-2.4 .2-2.5-1-2.4-2.1-2.5-3.2-2.4-4.6-2.5-10.9-3.6-19.6-5-7.3-.9-5.5 .1-31.2 3.3-4.9 1.3-4.3 1.7-3.1 1.9-2.6 2.5-1.6 2.4-1 3.7 .7 3.6 1.9 2.5 2.1 1.5 3.6 1.7 7.4 2 9.1 1.1 18.9 1zM444.7 690.4l15.3 .5 11-.1 22-1.4 12.8-1.3 9.2-1.7 5.5-1.8 0-4-132.1 0-2.5 1.2-1.4 1.2-.4 1.3 .7 1.2 2 1.2 5.4 1.5 7.3 1 7.3 .4 37.9 .8z"/><path fill="#0054ff" d="M411.6 900.6l108.9 0 0-26.8-1.8-1.4-3.7-1.3-5.5 .6-34.8 11-7.1 3.2-13.1 7.6-7.3 3-9.2 1.9-26.4 2.2zM409.9 801.6l11.6 .3 9.2-.3 14.1-1.2 8.6-1.2 4.8-1.3 4.1-2.4 1.6-2.5-.1-2.4-1.4-2.4-1.2-1.3-3.4-2.4-3.3-1.7-13.2-4.4-14.3-3.8-5.5-.7-7.3 0-27.5 3.3-4.8 1.2-4.4 1.8-3 1.8-2.3 2.5-1.2 2.4-.4 2.5 .6 2.4 1.7 2.5 4.6 2.9 7.3 2.2 9.2 1.2 15.9 1zM461.1 689.2l15.4-.5 27.5-2.5 7.3-1.3 5.5-1.6 3.7-1.7 0-1-108.9 0-9.3 1.2-3.2 1.2 0 1.3 3.2 1.2 9.2 1.2 28.3 1.1 21.3 1.4z"/><path fill="#0041ff" d="M443.8 900.6l73 0 3.7-2.2 0-20.2-3.7-2.6-1.8-.6-3.7-.3-7.3 1.2-20.2 5.2-7.3 2.3-5.5 2.4-16.5 9.8-10.7 5zM412.1 800.4l9.4 .3 7.3-.2 9.2-.9 10.5-1.7 4.8-1.2 3-1.3 2.6-2.4 .3-2.4-1-2.1-1.5-1.6-6.5-3.6-13.8-4.9-9.4-2.5-5.5-.7-7.3 .1-23.9 3.3-7.6 2.2-2.3 1.2-2.9 2.5-1.4 2.4-.3 2.5 .8 2.4 1 1.2 3.6 2.6 7.2 2.3 8.4 1.3 15.3 1.2zM455.5 686.7l8.2 .5 7.3-.1 23.8-2 12.9-1.8 5.5-1.3 3.6-1.4-73 0-2.6 1.2-.9 1.2 2.5 1.3 4.9 1.2 7.8 1.2z"/><path fill="#002eff" d="M453.4 900.6l56.1-.1 6.3-2.3 2.9-2 1.8-2 0-11.3-1.8-2.2-1.9-1.3-1.8-.9-3.7-.8-3.6 0-5.5 .8-14.7 3.1-10.1 3.1-7.7 3.7-12.4 8.5-3 2.5-.9 1.2zM415.8 799.2l13-.1 7.4-.9 7.3-1.5 7.3-2.4 1.9-1.4 .7-1.1 .2-1.2-1.1-2.4-1.4-1.3-4-2.4-11.9-4.9-10-2.6-5.5-.5-5.5 .3-22 3.8-5.5 1.8-1.9 1-2.5 2.3-.7 1.2-.2 2.5 1.2 2.4 1.3 1.2 4.6 2.4 5.3 1.3 8.6 1.2 13.4 1.3zM458.7 684.3l6.8 .7 9.2-.2 22-2 12.6-2.2-55.9 0 0 1.2 1.4 1.2 3.9 1.3z"/><path fill="#001bff" d="M462.7 900.6l33.2 0 9.9-1.6 6.3-2.1 4-2.4 1.2-1.2 1.4-2.5 .2-3.6-1.1-2.5-2.4-2.4-2.2-1.1-3.7-.8-9.2 .4-11 2-10.4 3.1-7.3 3.7-4.9 3.7-3.7 3.6-1 2.5 .7 1.2zM408.4 796.7l13.1 1.1 5.5-.2 6.9-.9 5.1-1.2 5.8-2.5 1.4-1.2 .6-1.2 0-1.2-1.8-2.5-3.6-2.4-4.9-2.5-6.8-2.4-8.2-1.4-5.5 .1-5.5 .9-12.8 2.8-4.2 1.3-4.3 2.4-1 1.2-.4 1.3 .7 2.4 1.3 1.2 2.4 1.4 5.5 1.7 10.7 1.8zM465.8 681.8l8.9 .4 21.2-1.6-33.2 0 3.1 1.2z"/><path fill="#0008ff" d="M473.2 898.2l5.1 .6 12.9-.3 7.3-.7 5.5-1 5.5-1.8 3.7-2.5 1.7-2.9-.2-2.4-1.5-2-1.9-1.2-1.8-.7-3.7-.5-7.3 .2-9.5 1.7-7.6 2.5-6.7 3.6-2.5 2.5-1.3 2.4 .3 1.2 2 1.3zM414.8 795.5l8.5 .5 5.5-.4 3.7-.8 5.5-2.2 2.1-2 .2-1.2-.3-1.2-2.1-2.5-4-2.4-5.1-2-7.3-1.2-3.7 .1-5.5 .9-7.7 2.2-5.8 2.4-1.5 1.2-.6 1.3 .2 1.2 1 1.2 1.6 .9 3.8 1.5 11.5 2.5z"/><path fill="#0c00ff" d="M482.6 894.5l3.1 .6 5.5 .4 5.5-.3 4.1-.7 4-1.2 2.3-1.3 1.3-1.2 .6-1.2-.1-1.2-.9-1.2-2.2-1.1-3.6-.6-5.5 .1-5.5 1-5.5 1.8-3.9 2.4-.9 1.2 .1 1.3 1.6 1.2zM416.1 793l7.2 .7 5.5-.8 2.9-1.1 1.7-1.2 .6-1.2 0-1.2-2-2.5-5-2.4-5.5-.8-6.2 .8-5.7 2.4-1.4 1.2-.5 1.3 .4 1.2 1.3 1.2 2.4 1.2 4.3 1.2z"/><path fill="none" stroke="#000" stroke-width="1.0" shape-rendering="crispEdges" d="M410.5 850.6l-1.8-.5-1.3-.8-.5-1.3 .6-1.2 1.2-.8 1.8-.5 1.8 .1 2.1 1.2 .5 1.2-.4 1.3-2.2 1.2-1.8 .1M406.8 853.5l-3.8-1.8-1.7-1.8-.6-1.9 1-2.4 3.3-2.3 5.5-1.3 3.7 .4 2.4 .8 2.2 1.2 2 2.4 .1 2.5-.7 1.2-3.4 2.4-4.5 1.2-1.8 0-3.7-.6M406.8 855.8l-5.5-1.9-3.1-2.2-1.1-1.2-.8-2.5 .2-1.2 1.2-1.9 2.1-1.7 5.6-2.5 3.3-.6 3.6-.2 3.7 .6 3.7 1.3 2.5 1.4 2.5 2.4 .6 1.2 .1 2.5-1.6 2.4-2.3 1.8-3.7 1.6-3.6 .9-3.7 .3-3.7-.5M408.7 857.9l-5.5-1.2-3.7-1.3-4.2-2.5-2.5-2.4-.8-2.5 .8-2.4 2.5-2.4 1.9-1.3 4.1-1.8 3.7-1.1 4.6-.7 4.6 .1 3.6 .7 4.6 1.6 4.1 2.5 2.4 2.4 1 2.4-.7 2.5-2.2 2.3-1.9 1.4-5.4 2.4-3.7 .9-3.7 .5-3.6-.1M406.8 859.2l-5.7-1.4-6.1-2.4-4.2-2.5-2.5-2.4-.8-2.5 .8-2.4 2.6-2.4 4.2-2.5 6.2-2.4 5.5-1.2 5.5-.4 3.7 .4 5.5 1.4 5.3 2.2 5.5 3.7 1.7 2.4 .2 2.5-1.4 2.4-3.2 2.5-4.4 2.2-3.8 1.4-5.4 1.3-5.5 .4-3.7-.3M405 860.3l-7.3-2-7.3-2.9-4.2-2.5-2.1-2.4-.5-1.2 .1-2.5 1.4-2.4 3.2-2.5 5.1-2.4 7.2-2.5 5.8-1.2 5.9-.4 4.4 .4 6.6 1.7 7.9 3.2 5 3.3 1.9 2.8 .1 2.5-1.2 2.4-2.7 2.5-4.8 2.4-6.8 2.4-6.7 1.5-5.5 .4-5.5-.6M405 861.6l-7.3-1.8-9.4-3.2-4.6-2.4-2.4-2.5-.7-1.2-.4-2.5 1-3 3-3.1 4.5-2.4 7-2.5 7.5-1.9 7.3-.9 5.5 .3 7.3 1.5 9.8 3.5 4.9 2.7 1.8 1.6 1.2 1.8 .6 2.4-1.1 3.7-2.1 2.5-4.1 2.4-9.1 3.2-7.4 1.8-7.3 .5-5.5-.5M405 862.8l-7.3-1.6-11.1-3.4-4.9-2.4-2.4-2.1-1-1.6-.8-2.4 .5-3.7 1.3-2.2 1.4-1.5 4.1-2.6 6.1-2.3 10.4-2.7 7.4-1.1 7.3 .1 9.2 1.9 11 3.7 5.1 3 2.2 2.8 .8 3.3-.9 3.7-1.7 2.4-1.4 1.3-4.1 2.4-7.5 2.5-10.4 2.4-6 .6-7.3-.5M406.8 864.1l-7.9-1.4-12.2-3.2-4.5-1.7-3.7-2.4-2.7-3.7-.6-2.4 .1-2.5 .9-2.4 1.3-2 3.7-3 7.3-3.1 11-2.8 7.3-1.2 7.4-.2 9.1 1.3 12.6 3.6 5.8 2.7 1.8 1.5 1.8 2.2 .9 2.2 .4 2.4-.8 3.7-2.3 3.4-3.7 2.8-5.9 2.4-12.4 3-7.3 1-7.4-.2M406.8 865.2l-7.6-1.3-15.1-3.6-4.8-2.1-3.4-2.8-1.6-2.5-.9-2.4-.2-2.5 .4-2.4 2.1-3.9 4.2-3.4 6.8-2.8 12.8-3.1 9.2-1.2 7.3 0 11 1.9 12.8 3.8 4.6 2.6 3 3.7 1.1 3.6-.1 2.5-.6 2.4-2.5 4-4.3 3.3-6.7 2.6-12.8 2.9-7.3 .9-7.4-.2M410.5 866.5l-9.2-1.1-16.5-3.5-5.5-2-3.6-2.4-1.9-2.1-1.4-2.5-.8-2.4-.1-3.7 .7-2.4 1.2-2.5 2.2-2.4 1.9-1.5 3.7-2 3.6-1.3 10.8-2.5 11.2-1.8 9.2-.2 9.2 1.4 14.6 3.8 5.5 2.7 1.9 1.6 1.6 2.2 1 2.5 .5 2.4-.7 4.9-2.4 4.3-3.7 3.3-5.5 2.6-7.3 1.9-11 2-9.2 .7M401.3 866.5l-14.6-2.9-5.5-1.4-5.5-2.8-2.9-2.8-1.6-2.4-1-3-.4-3.2 .4-2.6 1.4-3.5 1.8-2.4 2.3-2 2.8-1.7 8.2-2.9 12.8-2.5 9.2-1.1 9.1 .1 9.5 1.5 14.4 3.7 5.5 3 1.9 1.9 1.6 2.4 .9 2.5 .3 2.4-.1 2.5-1.1 3.6-1.3 2.5-1.9 2.4-2.2 1.9-2.9 1.8-2.8 1.2-5.3 1.5-14.6 2.7-9.2 .5-9.2-.9M403.2 867.7l-22-4.2-5.5-2.4-3.8-3.3-1.7-2.5-1.5-3.6-.4-3.7 .2-2.4 1.4-3.7 1.6-2.4 2.6-2.5 3.4-2.1 7.3-2.7 13.1-2.5 10.8-1.3 9.1 .1 9.2 1.3 15.1 3.6 5.2 2.4 2.8 2.5 1.7 2.4 1.1 2.5 .6 3.6-.4 3.7-.8 2.4-1.2 2.5-2.1 2.8-2.2 2.1-3.3 2.1-7.3 2.6-14.7 2.6-9.2 .8-9.1-.7M405 868.9l-23.8-4.1-5.5-2.2-4.5-3.6-1.9-2.4-1.7-3.7-.8-3.6 .2-3.7 1.2-3.7 1.6-2.4 2.2-2.5 3.4-2.4 5.8-2.5 9.1-2.1 14.7-2.2 11-.4 9.2 1.1 17.2 3.7 3.2 1.2 3.4 1.9 2 1.7 1.9 2.5 1.2 2.4 .8 3.7-.1 3.7-.6 2.4-1.5 3.5-1.9 2.8-2.1 2.3-3.4 2.5-3.6 1.7-3.7 1.2-12.8 2.4-11 1.2-9.2-.4M408.7 870.2l-9.2-1.1-18.3-3.1-5.7-2.1-4.9-3.6-2.3-2.8-1.7-3.3-1.1-3.7-.1-3.7 .8-3.6 1.9-3.7 2.1-2.5 3-2.4 6.1-3 7.4-1.9 18.3-2.7 11-.4 11 1.2 16.5 3.5 5.5 2.4 2.8 2.1 2 2.5 1.4 2.4 1 3.7 .2 2.4-.5 3.7-1.2 3.7-2 3.4-2.3 2.7-3.2 2.7-5.5 2.8-7.4 1.8-14.6 2.2-11 .4M447.2 741.8l-7.4-1.2-5.1-1.3-5-2.5-.6-1.2 1.2-1.2 3.9-1.2 7.5-1 9.1 .2 4.9 .8 2.5 .8 3 1.6 1 1.2 .2 1.2-.5 1.3-1.6 1.2-5.8 1.4-7.3-.1M399.5 870.1l-16.3-2.5-5.7-1.5-5.5-2.9-3.1-2.9-1.9-2.5-1.4-2.4-1.2-3.7-.5-3.7 .4-3.6 1.4-3.7 1.6-2.4 2.9-3 3.6-2.5 7.4-2.9 11-2.1 16.5-2 11 .1 18.3 2.9 8.2 2.1 2.8 1.3 3.5 2.4 2.2 2.4 1.5 2.5 1.3 3.7 .3 3.6-.5 3.7-1 3-1.8 3.5-2.5 3.3-3 2.8-3.7 2.3-3.6 1.5-5.5 1.5-16.5 2.3-9.2 .4-11-1M441.7 744.2l-7.5-1.3-18.2-4.2-12.5-1.9-3.8-1.2-.7-1.2 1.1-1.2 4.4-1.3 26.2-2.4 16.5-.5 7.3 .5 5.5 .9 5.5 1.9 1.8 1 2.5 2.3 1 2.4-.2 1.3-1.6 2.4-1.7 1.2-3.1 1.3-6 1-7.4 0-9.1-1M403.2 871.5l-19.1-2.7-6.6-1.5-5.5-2.7-4.7-4.3-2.5-3.7-1.5-3.7-.7-3.6 0-3.7 1-3.7 2.1-3.6 2.6-3 3.7-2.7 3.7-1.9 3.6-1.3 9.2-2 18.3-2.3 11-.1 17.3 2.3 10.2 2.1 6.1 2.8 3 2.4 2.1 2.4 1.8 3.7 .9 3.7 0 3.6-.8 3.7-1.5 3.7-2.4 3.6-3.3 3.7-3.2 2.5-6.3 2.9-9.4 1.9-16.3 1.9-5.5 .1-7.3-.5M443.5 746.7l-27.5-4.7-20.2-1.9-3.2-.8-2.5-1.3-1.6-1.4-.7-2.2 .4-1.2 1-1.3 3-1.8 3.6-1.1 5.5-.9 42.2-1.5 11 .5 8.1 1.2 7.3 2.4 2.9 1.8 2 1.9 1.3 2.4 .2 2.5-1 2.4-.9 1.2-3.6 2.5-3.4 1.2-3.7 .7-9.2 .3-11-.9M405 872.6l-20.2-2.6-7.3-1.5-5.5-2.5-5.3-4.5-2.7-3.7-1.7-3.6-1.2-4.9 .1-3.7 .9-3.7 2-3.6 2.4-2.9 3.7-3 3.6-2 3.7-1.5 9.2-2.2 18.3-2.2 12.8-.4 7.4 .7 12.8 1.9 9.2 2.1 3.6 1.6 2.8 1.8 2.7 2.4 1.9 2.4 1.7 3.7 .7 3.7 0 3.6-.8 3.7-1.6 3.7-2.2 3.6-3.2 3.7-3.8 3.1-6.3 3-8.4 1.9-18.3 2.1-11-.2M449 749.2l-10.9-1.4-22.1-3.6-18.3-1.1-5.5-.9-3.7-1-3.8-1.9-2.4-2.5-.6-2.4 1.3-2.8 3.7-2.7 5.5-2 7.3-1.2 45.8-1 11 .5 9.2 1.4 5.5 1.7 2.7 1.2 2.8 1.8 2.1 1.9 1.5 2.4 .6 2.4-.2 2.5-1.1 2.4-2.3 2.5-1.8 1.2-2.6 1.2-3.5 1-9.2 .9-11-.5M410.5 873.8l-9.2-.8-22-2.9-3.6-1.1-3.1-1.4-5.1-3.7-3.3-3.6-2.3-3.7-1.8-4.9-.5-3.7 .3-3.6 1.2-3.7 2.2-3.7 3.6-3.6 3.3-2.3 3.6-1.9 3.7-1.4 5.5-1.3 20.2-2.7 12.8-.6 11 1 18.7 3.1 3.8 1.2 3.2 1.5 3 2.2 2.4 2.4 2.4 3.7 1.3 3.6 .4 3.7-.4 3.7-1.1 3.6-2.5 4.9-2.8 3.7-3.8 3.7-2.6 1.8-3.7 1.9-7.3 2.2-16.5 2.2-11 .5M458.2 751.5l-14.7-1.3-27.5-4.3-18.3-.8-7.4-.9-7.3-2.4-3.8-2.5-1.9-2.5-.4-1.2 .2-2.4 1.5-2.5 1.3-1.2 4.1-2.5 6.3-2 7.4-1.2 11-.5 38.5-.2 11 .5 9.1 1.4 5.5 1.5 3.7 1.6 2.4 1.4 2.8 2.4 1.7 2.5 .9 2.4 .1 2.5-.5 2.4-1.2 2.5-2.2 2.4-2.2 1.5-3.6 1.7-7.4 1.5-9.1 .2M401.3 873.9l-18.3-2.1-7.3-1.7-3.7-1.6-3.3-2.1-2.9-2.5-3-3.4-2.4-3.9-1.4-3.7-.8-4.9 .2-3.6 1.2-3.7 2.1-3.7 3-3.3 3.6-2.8 7.4-3.5 9.1-2.2 22-2.5 12.9-.1 20.1 2.5 9.2 2 3.7 1.5 3.6 2.3 2.6 2.5 1.9 2.4 1.8 3.7 .9 3.7 .1 3.6-1 4.9-2.3 4.9-2.4 3.7-3.4 3.7-4.5 3.6-6.5 3.1-5.5 1.4-5.5 .8-18.3 1.7-12.9-.7M454.5 752.8l-12.8-1.4-25.7-3.9-20.2-.8-8.9-1.3-7.1-2.5-4-2.4-2-2.1-.8-1.6-.4-1.2 .1-2.4 1.1-2.2 1.3-1.5 2.4-1.8 3.4-1.9 7.6-2.4 7.7-1.2 12.5-.6 40.3-.1 12.8 .8 9.2 1.6 5.5 1.8 3 1.3 3.6 2.5 2.4 2.4 1.4 2.5 .8 3.6-.2 2.8-1.3 3.4-1.7 2.4-2.8 2.4-3.4 1.9-3.6 1.2-3.7 .7-5.5 .4-11-.4M403.2 875l-20.2-2.2-7.3-1.5-3.7-1.6-3.5-2.1-5.7-5.2-3.2-4.6-1.7-3.6-1.2-4.9 0-3.7 1.3-4.9 2-3.7 2.8-3.3 3.4-2.8 4-2.3 3.6-1.6 9.2-2.4 20.2-2.4 14.6-.5 20.2 2.1 11 2.2 3.7 1.3 3.6 2.1 3.3 2.8 2.1 2.4 2.1 3.7 1.3 4.9 0 3.6-1.1 4.9-1.6 3.7-3.1 4.9-4.5 4.9-4 3.1-3.6 2-3.7 1.5-9.2 1.9-18.3 1.7-5.5 .1-7.3-.5M452.7 754.1l-34.9-4.9-7.3-.6-16.5-.5-9.6-1.5-7.2-2.4-3.4-1.9-2.3-1.8-2.6-3.7-.2-3.6 2.1-3.7 4.9-3.7 3.6-1.6 5.5-1.8 9.2-1.7 12.8-.6 44 0 12.9 .8 9.1 1.6 5.5 1.7 3.7 1.7 3.7 2.5 3.1 3.5 1.2 2.5 .7 3.6-.4 3.7-1.6 3.7-1.7 2.4-3.2 2.8-3.6 1.9-3.7 1.2-9.2 1.2-14.6-.8M406.8 876.2l-23.8-2.4-7.3-1.4-3.7-1.5-3.7-2.1-5.7-4.9-3-3.6-2.8-4.9-1.5-4.9-.3-3.7 .9-4.9 1.6-3.6 2.7-3.7 4-3.7 3.9-2.4 3.9-1.8 9.2-2.7 7.3-1.1 14.7-1.5 14.6-.5 20.2 2 11 1.9 3.7 1.3 3.6 1.8 3.7 2.7 2.6 2.8 2.4 3.6 1.4 3.7 .5 3.7-.6 4.9-1.8 4.9-2.9 4.8-4 4.9-4.1 3.7-6.3 3.8-3.7 1.4-5.5 1.3-18.3 2-12.9 .1M465.5 756.4l-18.3-1.6-29.4-4.3-7.3-.6-16.5-.3-11-1.6-8.1-2.6-6.2-3.7-3.1-3.7-.8-2.4 .1-2.4 1-2.5 2-2.4 5.4-3.7 7.9-3 11-2.2 14.6-.8 44 .1 12.9 .7 9.8 1.5 4.8 1.3 5.5 2.3 3.7 2.3 1.8 1.7 1.9 2.2 1.7 3.7 .5 3.6-.4 3.7-1.4 3.7-2.3 3.4-2.8 2.7-2.7 1.7-3.6 1.5-3.7 1-5.5 .6-5.5 .1M397.7 876.2l-16.5-1.6-4.5-.9-3.8-1.2-4.6-2.4-3.5-2.5-3.8-3.7-3-3.6-2.8-4.9-1.3-3.7-.6-4.9 .5-3.6 2-4.9 2.6-3.7 3.8-3.7 3.6-2.4 8.3-3.7 10.7-2.3 23.9-2.2 7.3-.2 7.3 .3 20.2 2.3 9.2 2.2 5 2.4 3.4 2.4 2.4 2.5 2.7 3.6 1.6 3.7 .8 4.9-.4 3.6-1.6 4.9-2.7 4.9-3.8 4.9-5 4.9-4.3 3-3.6 1.9-5.5 1.8-11 1.7-18.4 1.3-14.6-1.1M461.8 757.6l-18.3-2.1-25.7-3.8-7.3-.5-16.5-.3-6.7-.6-6.5-1.3-7.9-2.4-6.8-3.7-2.7-2.4-1.6-2.5-.7-2.4 .1-2.4 .9-2.5 1.8-2.4 2.8-2.5 4.3-2.4 4.7-1.9 5.5-1.6 11-1.9 14.6-.7 45.9 .1 12.8 .7 11 1.9 5.5 1.6 4 1.8 3.9 2.4 3.1 3.2 1.8 2.9 1 3.7 .1 3.7-1.1 4.9-1.8 3.6-1.8 2.5-3.7 3.2-3.7 2-3.6 1.2-5.5 1-5.5 .2-7.4-.3M401.3 877.4l-20.1-1.8-7.4-1.6-5.5-2.6-3.6-2.5-4.3-3.7-3.2-3.7-2.5-3.7-2.3-4.9-.9-4.9 .3-3.6 1.5-4.9 2.2-3.7 3.3-3.6 4.8-3.7 4.5-2.5 3.9-1.5 5.5-1.6 5.5-1.1 23.8-2.2 14.7-.1 22 2.2 9.2 2 5.3 2.3 3.7 2.5 2.8 2.4 2.9 3.7 2.3 4.9 .7 3.7-.1 3.6-1.5 4.9-2.5 4.9-3.6 4.9-4.7 4.9-5.3 4.2-3.7 2.1-3.7 1.5-9.1 2.1-20.2 1.8-7.3-.1-7.4-.6M461.8 758.9l-20.1-2.5-23.9-3.5-7.3-.5-18.3-.3-7.4-.8-7.3-1.5-9.4-3.2-6.1-3.7-2.5-2.4-1.5-2.5-.6-2.4 .1-2.4 .9-2.5 1.6-2.4 2.5-2.5 4-2.5 5.3-2.4 5.7-1.7 12.8-2.4 14.7-.8 49.5 .2 12.8 .7 11 1.9 5.5 1.6 5.5 2.5 3.7 2.6 2.5 2.8 2 3.6 .8 3.7-.1 4.9-1.4 4.9-2 3.7-3 3.6-4.3 3.2-3.7 1.7-3.6 1-5.5 .7-5.5 .1-7.4-.5M405 878.7l-23.8-2.1-7.4-1.5-5.5-2.4-3.6-2.4-4.8-3.9-3.5-3.7-3.6-4.9-1.8-3.6-1.3-4.9 0-3.7 1.2-4.9 1.8-3.7 4.1-4.8 4.2-3.5 4.6-2.7 4.6-1.9 5.5-1.7 5.5-1.2 22-2.1 16.5-.5 22 2 11 2 5.5 2.1 3.6 2.2 3.6 2.8 3.3 3.7 2.2 3.6 1.4 4.9 .1 3.7-1.2 4.9-2.5 4.9-4.5 6.1-4.6 4.9-5.1 4.1-7.3 4.1-3.7 1.2-5.5 1.2-20.2 1.9-12.8-.2M461.8 760.2l-44-6.2-7.3-.5-18.3-.1-9.2-1-7.3-1.5-9.7-3.1-4.9-2.4-3.4-2.5-2.2-2.4-1.3-2.5-.5-2.4 .2-2.4 1.5-3.7 1.9-2.5 2.7-2.4 4-2.4 4.3-1.9 5.6-1.8 7.3-1.7 7.3-1.1 16.5-1 51.3 .3 12.9 .7 11 1.9 6.9 2.1 4.9 2.5 3.3 2.4 3.1 3.7 1.6 3.6 .8 4.9-.6 4.9-1.6 4.9-2 3.7-3.6 4.2-3.7 2.7-3.6 1.7-5.5 1.4-5.5 .6-12.9-.7M410.5 879.8l-27.5-2-7.3-1.1-5.2-1.8-4-2-4.1-2.9-4.3-3.6-4.6-4.9-3.4-4.9-1.6-3.7-.9-4.9 .5-4.8 1.9-4.9 3.5-4.9 3.9-3.7 3.6-2.5 5.5-2.8 5.5-2 5.5-1.4 14.7-1.9 16.5-1.1 9.1-.2 23.9 1.8 11 1.8 5.5 2 3.6 1.9 4.5 3.2 3.7 3.7 2.5 3.6 1.8 4.9 .2 3.7-.9 4.9-2.3 4.9-3.4 4.8-5.5 6.2-4.2 3.7-7.4 5-3.6 1.7-5.5 1.6-5.5 1-11 1-14.7 .6M461.8 761.4l-42.1-6.1-7.4-.6-22-.3-9.1-1-9.4-1.9-10.8-3.7-6.4-3.6-2.5-2.5-1.5-2.4-.7-2.5 .2-3.6 1.6-3.7 2.9-3.7 3-2.4 4.2-2.5 4.7-1.9 5.8-1.7 14.4-2.8 16.5-1 53.1 .2 14.7 .8 11 1.9 6.9 2.1 5.1 2.4 3.3 2.5 3.2 3.6 2 4.9 .5 4.9-.8 6-1.9 5-2 3.7-3.5 4.1-3.6 2.8-3.7 1.8-5.5 1.5-5.5 .6-7.3-.1-7.4-.8M399.5 879.9l-20.2-1.5-5.1-1-3.6-1.2-4.8-2.5-5.4-3.7-5.6-4.8-4.5-4.9-3.1-4.9-1.3-3.7-.5-3.7 .5-4.8 1.9-4.9 2.4-3.7 3.5-3.7 5.5-4 3.6-2.1 5.9-2.4 5.1-1.6 7.4-1.4 9.1-1 18.4-1.2 16.5 .1 22 2 9.1 2.1 5.3 2.2 4.1 2.4 4.5 3.7 4 4.9 1.8 3.7 .8 4.9-.7 4.8-2.1 4.9-3.3 4.9-5.5 6.1-6.8 6.1-5.3 3.7-4.1 2.1-3.7 1.4-5.5 1.4-5.5 .7-20.1 1.4-14.7-.8M472.8 763.8l-11-1.2-42.1-6.3-7.4-.6-16.5 .1-7.3-.3-9.2-1.1-9.1-1.7-11.9-3.7-5.2-2.4-3.1-2.1-2.5-2.8-1.2-2.4-.4-2.5 .4-3.6 1.6-3.7 2.9-3.7 4.4-3.6 4-2.3 5.5-2.2 5.5-1.5 14.6-2.7 9.2-.9 9.2-.3 55 .2 14.6 .9 11 1.8 5.5 1.6 5.5 2.3 3.7 2.4 3.2 3.1 2.1 3.7 1.1 3.6 .3 4.9-.7 4.9-1.5 4.9-2.7 5.4-3.4 4.4-3.9 3.2-3.7 1.9-5.5 1.6-5.5 .7-5.5 0M403.2 881.2l-23.9-1.8-4.7-.8-3.9-1.2-5.1-2.5-5.6-3.6-7.5-6.1-4.7-4.9-2.5-3.7-1.8-4.9-.4-4.9 .9-4.9 2.2-4.9 2.7-3.6 3.8-3.7 4.6-3.3 5.3-2.8 5.7-2.2 5.5-1.6 7.4-1.3 9.1-1 18.4-1.1 9.1-.2 9.2 .4 20.2 1.8 5.5 .8 5.5 1.6 5.5 2.3 4.7 2.9 5.7 4.9 2.8 3.7 1.7 3.7 .7 4.9-.9 4.8-2.3 4.9-3.4 4.9-5.8 6.1-6.9 6.1-5.1 3.7-7.7 3.9-9.2 2.2-20.2 1.7-7.3 .1-7.3-.4M471 765l-51.3-7.7-7.4-.5-16.5 .2-9.1-.5-11.2-1.3-10.8-2.2-12.9-4-3.6-1.8-2.6-1.8-2.2-2.5-1.2-2.4-.5-2.5 .3-3.6 2.1-4.9 2.8-3.7 4.2-3.6 3.8-2.5 4.3-2 5.5-1.8 7.3-1.7 9.2-1.6 9.1-1 11-.5 56.9 .2 14.6 .7 12.9 2 6.8 2 5.4 2.5 3.5 2.4 3.2 3.7 1.8 3.7 .9 4.9-.1 4.8-1.3 6.2-2.4 6.1-3 4.9-3.8 4.1-3.7 2.5-3.7 1.7-5.5 1.4-5.5 .4-7.3-.3M406.8 882.3l-27.5-1.8-7.3-1.5-5.5-2.3-5.1-3-8.5-6.1-5.7-4.9-3-3.7-2.5-4.8-1-4.9 .3-4.9 1.5-4.9 2.9-4.9 3.3-3.7 4.5-3.6 6-3.5 5.5-2.4 5.5-1.7 7.3-1.6 11-1.3 16.5-1 11-.3 9.2 .2 23.8 1.9 5.5 .9 5 1.4 5.8 2.5 6.1 3.6 4.4 3.7 3.2 3.7 1.9 3.6 .9 4.9-.6 4.9-2 4.9-3.4 4.9-4.5 4.9-8.1 7.3-6.5 4.9-7.7 4.2-3.7 1.3-5.5 1.3-18.3 1.7-14.7 .1M471 766.3l-51.3-8-7.4-.5-16.5 .3-11-.6-14.6-1.8-14.7-3-8.3-2.4-2.7-1.3-3.4-2.4-2-2.4-1.1-2.5-.6-2.4 .2-3.7 1.8-4.9 2.5-3.7 3.6-3.6 5-3.7 4.7-2.4 5.8-2.2 6.1-1.5 8.6-1.6 12.8-1.5 11-.5 56.8 .1 16.5 .6 14.7 2.1 7 2 5.5 2.5 4 2.8 2.8 3.3 1.7 3.6 .9 4.9-.2 6.1-1.3 6.2-2.4 6.1-3.3 5.8-3.7 4.2-3.7 2.7-3.9 1.9-5.2 1.4-7.4 .5-7.3-.5M394 882.3l-16.5-1-5.5-1.1-3.7-1.4-7.3-3.9-10.9-7.3-4.7-3.7-4.1-4.9-2.3-4.8-.8-4.9 .3-4.9 1.5-4.9 2.8-4.9 3.2-3.7 4.4-3.6 5.1-3.2 6.4-2.9 6.4-2.1 7.4-1.7 9.1-1.2 31.2-1.5 11 .3 16.5 1.1 12.8 1.7 5.5 1.6 4.3 1.8 4.7 2.4 5.5 3.7 3.9 3.6 2.6 3.7 1.5 4.9 0 4.9-1.5 4.9-2.8 4.9-4.1 4.8-8 7.4-7.7 6.1-7.5 4.7-3.7 1.7-5.5 1.8-11 1.6-20.2 1.1-18.3-1.1M469.2 767.4l-49.5-8.1-9.2-.5-16.5 .3-11-.6-14.7-1.7-20.1-3.2-6.6-2.1-2.6-1.5-2.6-2.2-1.8-2.4-1.3-3.7-.3-2.4 .3-3.7 1.3-3.7 3.2-4.9 3.5-3.6 5-3.9 5.5-3 5.5-2.1 7.4-1.9 7.3-1.3 12.8-1.6 12.9-.8 60.5 .1 18.3 .8 7.3 .9 7.4 1.4 7.3 2.3 5.5 2.9 3.7 3.2 2.5 4.2 1.3 4.9 0 6.1-1.1 6.1-2.4 7.3-2.3 4.9-3.5 5.4-3.7 3.6-3.7 2.4-5.5 2.1-5.5 .8-7.3 0-7.3-.8M397.7 883.5l-20.2-1-5.5-1.1-3.7-1.3-7.3-3.7-12.5-7.6-5.1-3.6-3.6-3.7-2.7-4.9-1.3-4.9-.1-6.1 1.1-4.9 2.4-4.9 2.7-3.6 4.4-4.2 5.5-3.7 6.5-3.1 8.2-2.8 7.3-1.7 9.2-1.3 33-1.5 26.3 1.1 14 1.6 5.5 1.4 5.3 1.9 5.2 2.5 6 3.6 4.3 3.7 2.7 3.7 1.8 4.9 .1 4.9-1.8 6.1-2.9 4.9-4.2 4.8-6.8 6.2-9.6 7.3-7.4 4.8-5.2 2.5-4 1.4-9.1 1.7-22 1.4-16.5-.8M480.2 769.9l-9.2-.9-18.3-3.4-33-5.3-7.4-.5-16.5 .4-11-.4-36.1-3.4-6-1-3.7-1.1-3.2-1.6-2.3-1.8-1.8-2.1-1.9-3.3-.7-2.6-.4-3.6 .4-3.7 1.8-4.9 2.4-3.7 5-4.8 5.1-3.7 4.8-2.7 5.5-2.3 7.3-2 7.3-1.3 14.7-1.7 12.8-.8 62.4-.1 18.3 .7 9.2 1.1 7.3 1.3 6 1.7 5 2.1 3.7 2.4 2.7 2.8 2.1 3.7 1.1 4.9 .1 4.9-.8 6.1-2.1 7.3-3 7.3-3.8 6.1-3.3 3.7-4 2.9-5.5 2.3-5.5 .9-5.5 .1M401.3 884.7l-22-.9-5.5-.8-3.6-1-7.4-3.1-16.2-8.9-3.9-2.4-4.3-3.7-3.1-4.6-1.8-5.1-.7-6.2 .9-6.1 1.9-4.9 3.3-4.8 3.8-3.9 5.5-3.9 6.2-3.2 8.4-3.1 7.5-1.8 9-1.4 12.9-1 22-.8 11 .1 14.6 .8 16.5 1.5 5.5 1.2 6.4 2 6.5 2.8 5.9 3.3 4.6 3.7 2.9 3.7 1.9 4.8 .1 4.9-1.5 6.1-3.5 6.2-4.2 4.8-5.6 4.9-11.6 8.6-7.4 4.8-4.7 2.5-4.4 1.9-9.2 2-22 1.5-14.7-.5M476.5 771.1l-25.7-4.8-31.1-5.1-7.4-.4-23.8 .4-27.5-1.9-16.5-.5-5.5-.8-3.7-1.2-3-1.6-2.5-2.1-2.2-2.8-1.8-3.7-.9-3.7-.2-4.9 .6-3.6 1.9-4.9 2.5-3.7 3.7-3.6 5-3.7 6.6-3.7 5.9-2.4 6.4-1.9 7.4-1.3 16.5-1.9 14.6-.8 64.2-.1 20.2 .9 9.1 1.1 7.4 1.3 5.5 1.6 5.5 2.5 4.2 3.5 2.4 3.6 1.4 4.9 .2 4.9-.9 7.3-1.9 7.4-2.8 7.3-3.2 6.1-3.6 4.9-4.2 3.7-4.5 2.4-5.5 1.4-5.5 .4-7.3-.5M406.8 886l-27.5-1.1-7.3-1.1-7.3-2.6-20.5-9.9-4.2-2.5-2.8-2.3-3.7-4.7-2.2-5.2-1.2-6.1 .2-6.1 1.7-6.1 2.7-4.9 4.3-4.9 4.6-3.7 6.6-3.6 7.1-2.9 7.4-2 9.1-1.8 11-1.1 16.5-.7 16.5-.4 12.9 .3 23.8 1.5 6.1 .9 6.7 1.8 8.7 3.1 7.4 3.7 4.8 3.7 2.9 3.6 2 4.9 .2 4.9-1.5 6.1-3.2 6.1-3.9 4.9-5.3 4.9-17.4 12.2-5.7 3.5-5.5 2.9-3.6 1.4-5.5 1.4-7.4 1-11 .7-16.5 .2M474.7 772.3l-23.9-4.9-23.8-4.2-9.2-1.1-7.3-.2-20.2 .4-29.3-1.3-18.3 .7-7.4-.9-3.6-1.4-3.7-2.4-1.9-1.8-2.4-3.7-1.5-3.7-1-4.9-.1-4.9 .7-4.8 1.8-4.9 2.3-3.7 3.6-3.7 4-2.8 7.3-4 7.1-2.9 7.6-2.2 7.3-1.2 16.5-1.7 14.7-.8 67.8-.1 22 1 9.2 1.1 7.5 1.4 7.2 2.4 4.4 2.5 2.9 2.9 2.2 4.4 .9 6.1-.6 7.4-1.9 8.5-3 8.6-3.1 6.7-3.7 5.8-3.6 3.9-3.7 2.5-5.5 2.1-5.5 .8-5.5-.1-7.3-.9M377.5 885.9l-5.5-.8-5.2-1.6-13.1-6-12.9-5.1-3.6-2.2-3-2.6-1.9-2.4-2.2-3.7-2.1-6.1-.9-6.1 .4-6.1 1.8-6.2 2.7-4.8 3.3-3.9 5.5-4.4 5.5-3.1 7.4-3 7.3-2.1 9.2-1.8 11-1.2 36.6-1.2 33 1.1 7.4 .8 7.3 1.3 7.3 2 7.4 2.6 5.5 2.5 4.5 3 2.6 2.5 2.5 3.6 1 2.5 .6 3.6-.8 6.2-2.5 6.1-5.1 7.3-4.8 4.9-6.5 4.9-17.2 11-7.3 4.1-5.5 2.2-5.5 1.4-7.4 1-9.1 .6-14.7 .4-33-1.2M482 774.9l-7.3-1.1-23.9-5.3-23.8-4.3-9.2-1.2-7.3-.1-18.3 .5-29.4-.6-22 2.1-7.3-.7-4.7-1.7-3.6-2.5-2.7-2.9-2.5-4.4-1.5-4.9-.8-6.1 .2-6.1 .9-4.9 1.8-4.9 2.4-3.6 3.2-3.3 4.2-2.9 7.6-3.6 8.3-3.1 7.4-1.9 7.3-1.1 18.3-1.6 14.7-.7 71.5-.1 12.8 .4 11 .9 9.2 1.1 7.3 1.6 5.5 2 3.9 2.5 3.1 3.6 1.5 3.7 .6 4.9-.5 7.3-1.9 8.6-2.7 8.5-3 7.4-3.1 6.1-3.4 4.8-3.6 3.5-3.7 2.2-5.5 1.7-5.5 .5-5.5-.3M377.5 887.2l-5.5-.8-3.7-1-14.6-6-14.7-4.8-3.7-2.1-2.9-2.5-2.1-2.4-2.3-3.7-2.5-6.1-1.2-6.1-.1-7.3 1.2-6.1 2.7-6.1 3.6-4.6 4.7-4 6.3-3.7 7.3-2.9 9.2-2.5 9.1-1.6 11-1.2 38.5-1.1 34.9 1.1 9.1 .9 6.9 1.2 9.7 2.5 7.2 2.4 5.1 2.5 3.7 2.4 2.7 2.4 2.5 3.7 .9 2.5 .4 3.6-1 6.1-2 4.9-2.1 3.7-5.5 7.3-5.2 4.9-5 3.7-20.2 12.2-7.2 4-3.7 1.5-5.5 1.7-5.5 .9-9.2 .8-16.5 .6-18.3-.7-16.5-.2M520.5 737.8l-3 10-3.3 8.6-2.9 6.1-3.8 6.1-3.5 3.8-3.7 2.4-5.5 1.9-5.5 .5-5.5-.3-5.5-.8-25.6-6.2-25.7-4.8-9.2-1.1-7.3-.1-16.5 .6-29.3-.1-7.4 .7-16.5 3.2-5.5 .1-3.6-.4-3.7-1.1-3.7-2-2.8-2.4-2.7-3.5-1.8-3.9-1.4-4.8-.8-4.9-.2-4.9 .4-7.3 1.7-7.4 2.3-4.9 3.5-4 5.5-3.6 8.2-3.4 10.1-3 9.9-1.9 15.8-1.3 22-1 69.7-.1 18.3 .5 16.5 1.4 11 2 3.7 1.2 3.6 1.9 2 1.6 1.7 2.1M377.5 888.5l-5.5-.7-3.7-.9-14.6-5.5-16.5-4.3-3.7-2-3.2-2.6-2.3-2.6-2.4-3.5-3.2-7.4-1.5-7.3-.2-7.3 1.2-7.4 2.6-6.1 3.5-4.7 4.4-3.8 6.3-3.7 7.6-3 9.2-2.3 9.2-1.5 11-1.1 14.6-.6 27.5-.4 36.7 .8 9.2 .8 8 1.2 10.3 2.2 7.3 2.1 5.5 2.3 5.3 3.2 2.8 2.4 2.5 3.7 .7 2.4 .2 2.5-.7 3.6-1.2 3.7-2.4 4.9-3 4.9-7 8.5-5.4 4.9-5.3 3.7-28.6 16.1-3.7 1.5-5.5 1.6-11 1.4-20.2 .9-18.3-.6-16.5 0M520.5 743.7l-6.6 17.6-3 6.1-3.2 4.7-3.7 3.6-3.7 2.1-3.6 1.1-5.5 .6-5.5-.4-5.5-.9-27.3-7.2-25.9-4.9-9.2-1.1-51.3 1-9.5 1.4-18 4.8-5.5 .3-5.5-.6-3.7-1.3-3.6-2.2-2.4-2.2-2.5-3.7-2-4.9-1.3-4.9-.8-6.1-.3-6.1 .5-8.6 1.5-7.3 2.4-6.1 3-4.1 4.5-3.2 5.9-2.5 11.6-3.1 9.2-1.8 14.7-1.4 25.6-1 86.2 0 18.3 .9 12.9 1.3 7.3 1.6 5.5 2.7M520.5 838l-1.8-1.4-1.9-.6-1.8 .2-1.8 1.1-3.7 3.9-11 14.2-4.6 4.9-4.2 3.6-7.3 4.9-27.9 15.1-7.3 3-5.5 1.4-7.4 .8-14.6 .9-9.2 .1-18.3-.5-12.9 .3-5.5-.3-7.3-1.6-12.8-4.6-14.7-2.4-3.9-1.2-3.4-1.7-4-3.2-3.2-3.6-3.1-4.9-2.1-4.9-1.4-4.9-.8-4.9-.3-6.1 .8-8.6 1.8-6.1 2.6-4.9 4.2-4.4 5.5-3.7 6.9-2.9 7.7-2.1 11-1.8 14.7-1.3 20.2-.6 33-.2 33 .6 16.5 1.4 14.6 2.4 9.2 2.6 11 4.3 3.7 1 3.6-.4 3.7-2M520.5 748.7l-5.7 15-2.9 6.1-2.4 4-2.8 3.4-2.7 2.1-3.7 1.8-3.6 .8-5.5 .1-7.4-1-30.5-8.7-26.3-5.2-11-1.2-20.2 .8-20.1 .4-9.2 .6-9.7 2.1-17.8 6.6-5.5 1-3.7 .2-5.5-.6-3.6-1.2-3.7-2.3-3.7-4.4-2.4-5.4-1.5-6.1-1-7.3-.4-8.6 .4-9.8 1-7.3 1.5-6.1 2.3-4.9 3-3.7 3.6-2.4 4.5-1.7 7.4-1.7 12.8-2 11-1.1 40.3-1 91.7 .2 22 1.3 5.5 .7 5.5 1.3M520.5 845.1l-1.8-.8-1.9-.3-3.6 1-5.5 4.4-11.9 12.1-8 6.1-6.5 3.7-14 6.7-12.8 7.1-7.3 3-9.2 1.8-16.5 1-11 .3-18.3-.4-14.7 .6-3.7-.2-5.5-1-12.8-4.1-3.7-.8-12.8-.8-3.7-.6-4.4-1.6-4-2.5-4.1-3.6-3-3.7-4.1-7.3-1.7-4.9-1.3-6.1-.8-11 .4-7.4 1.4-7.3 1.8-4.9 2.3-3.7 3.9-3.6 4.4-2.5 5.6-1.8 7.3-1.5 11-1.2 16.5-.8 58.7-.5 47.6 .7 16.5 1 20.2 2.1 5.5-.1 5.5-.7M520.5 753.4l-5.5 14.8-4.5 9-2.8 3.6-1.9 1.7-1.8 1.2-3.7 1.3-5.5 .4-7.3-1.1-9.2-2.6-16-5.8-8.8-2.4-26.5-5.4-7.3-1-5.5-.2-36.7 1.5-12.1 1.4-8.1 2.5-14.6 7.5-7.4 3.1-9.1 2.4-7.4 .6-3.6-.6-3.7-1.9-2.2-2.6-2.2-4.9-1.5-6.1-1-7.3-.8-19.6 .9-19.5 .8-6.1 1.5-6.1 1.8-3.7 2.7-3 3.4-1.9 3.9-1.2 7.4-1 14.6-1 25.7-.8 119.2 0 22 .4 12.8 .7M520.5 850.4l-3.7-1-3.6 .9-5.5 3.6-12.9 11.3-7.6 4.8-18 8.3-18.4 9.6-5.5 1.8-7.3 1.3-22 1.2-22-.1-18.3 .9-7.4-.9-12.8-3.7-3.7-.5-5.5-.1-11 .7-3.6-.6-5.5-2.1-4-2.3-10.7-7.2-1.8-.8-1.9 .7-.8 2.4-.6 3.7-.1 9.7 1 8.6M520.5 758.2l-5.5 15.9-3.7 8.5-3.6 5.2-1.9 1.5-3.6 1.4-5.5-.3-5.5-1.5-7.4-2.6-18.6-7.9-11.7-3.7-28.3-5.9-5.5-.7-7.4-.1-34.8 1.9-8.4 1.1-6.3 1.8-4.4 1.9-4.2 2.5-12.7 9.7-6.4 6.1-1.6 2.5-.8 2.4 .6 2.5 1.1 1.2 1.9 1.2 3.3 1.2 8.6 1.6 14.6 .9 49.5 .6 51.4-.3 22-1.1 22-2.7 5.5 .5 7.3 1.1M307.3 680.6l1 3.7 1.4 3 1.8 2.4 2.3 1.9 3.2 1.4 3.7 .9 13.3 1.4 21.5 1.1 58.7 .7 53.1 0 53.2-.8M520.5 855.1l-3.7-1-1.8 .1-3.7 1.4-3.6 2.3-10.8 8.5-5.9 3.6-4.9 2.5-16.9 7.1-16.5 8.8-7.4 2.5-5.5 1.1-7.3 .6-18.3 .8-20.2 0-18.3 1.5-7.4-.6-12.8-3.1-5.5-.3-6 1.1-8.7 2.9-10.1 2-1.7 1.3-.4 1.2 .2 1.2M374.4 805.3l15.9 .6 29.4 .3 29.3-.4 12.8-.6 10.6-1.2 9.6-2.2 3.3-1.4 1.7-1.2 1-1.3 .5-1.2-.7-2.4-2.3-2.5-9.2-6.1-12.1-6.1-6.7-2.4-6.7-1.9-22-4.9-9.1-1.2-7.4-.1-29.3 1.8-7.3 .8-5.5 1.1-5.8 1.9-4.5 2.5-4.8 3.6-3.5 3.7-3.4 4.9-1.5 3.6-.2 2.5 .9 2.4 2.6 2.5 2.4 1.2 3.7 1.2 6.1 1.2 12.2 1.3M520.5 763.5l-4.4 16.1-1.4 8.6 .4 3.6 1.1 2.5 2.2 2.4 2.1 1.6M323.3 680.6l1.4 2.4 1.5 1.4 3.8 2.3 5.5 2.5 5.3 1.8 5.5 1.3 11 1.4 38.5 1.6 64.2 .4 40.3-.9 11-.6 9.2-1M520.5 859.6l-3.7-1.2-1.8 .1-3.7 1.1-3.6 2.1-8.5 5.9-6.4 3.7-21.8 8.8-16.5 8.7-5.5 2.4-3.7 1-5.5 1-7.3 .7-18.3 .8-22 .4-18.4 2.2-5.5-.3-11-2.1-3.6-.2-3.7 .7-3.3 1.5-1.5 1.3-1.6 2.4M379.8 804l14.2 .7 27.5 .5 23.8-.6 12.9-.7 9.1-1.4 6.8-2.1 3.8-2.5 .9-1.2 .4-2.4-1-2.5-3.3-3.6-5-3.7-6.8-3.7-10.4-3.6-20.2-4.9-9.2-1.7-7.3-.5-33 2.4-7 1-4.8 1.2-3.3 1.2-4.5 2.5-3 2.4-3.2 3.7-2.1 3.7-.9 3.6 .2 2.5 1.2 2.4 2.8 2.5 2.4 1.2 3.5 1.2 5.5 1.2 10 1.2M520.5 770.7l-1.2 6.5-.4 4.8 .4 4.9 1.2 3.6M343.6 680.6l-.1 2.4 1.5 2.5 3.2 2.2 3.8 1.5 7.2 1.3 31.1 2.8 25.7 .6 55 .2 33-1.6 9.2-.9 7.3-1.4M520.5 864.2l-3.7-1.5-1.8 0-3.7 .9-16.6 8.9-22.9 8.5-5.1 2.5-12.2 6.8-5.5 2.2-3.7 1.1-11 1.5-42.1 1.8-7 1.3-9.3 2.4M411.5 804l22.8-.2 16.5-.8 9.2-1.1 6-1.5 4.8-2.5 2.1-2.4 .3-2.5-.8-2.4-3.2-3.7-3.2-2.4-6-3.2-9.2-3.2-22-5.5-7.3-1.1-7.3-.2-33 3.1-6.6 1.5-4.4 1.8-3.7 2.3-3.3 3.3-2.2 3.6-.8 3.7 .8 3.7 1.9 2.4 1.8 1.3 3.6 1.7 9.2 2.3 11 1.2 23 .8M375.9 680.6l-7.6 1.5-7.3 .6-.8 .3 2 1.3 19 5.3 7.3 1.2 10.5 .8 59.2 1 14.6-.2 31.2-2 9.2-1.2 7.3-1.8M520.5 869l-3.7-1.9-1.8-.2-3.7 .6-14.4 6.2-24.1 8.3-5.8 2.7-12.5 7.1-9.2 3.4-9.1 1.4-38.5 2.1-5 .7-4.3 1.2M409.2 802.8l21.5 .1 18-1.3 7.6-1 5.7-1.4 4.5-2.5 1.7-2.4 .2-2.5-1-2.4-2.1-2.5-3.2-2.4-4.6-2.5-10.9-3.6-19.6-5-7.3-.9-5.5 .1-31.2 3.3-4.9 1.3-4.3 1.7-3.1 1.9-2.6 2.5-1.6 2.4-1 3.7 .7 3.6 1.9 2.5 2.1 1.5 3.6 1.7 7.4 2 9.1 1.1 18.9 1M388.4 680.6l-2.5 1.2-1.4 1.2-.4 1.3 .7 1.2 3.7 1.8 3.7 .9 7.3 1 16.5 .7 44 1 14.7-.3 20.1-1.4 11-1.1 9.2-1.7 5.5-1.8M520.5 873.8l-1.8-1.4-3.7-1.3-5.5 .6-34.8 11-7.1 3.2-13.1 7.6-7.3 3-9.2 1.9-26.4 2.2M409.9 801.6l11.6 .3 9.2-.3 14.1-1.2 8.6-1.2 4.8-1.3 4.1-2.4 1.6-2.5-.1-2.4-1.4-2.4-1.2-1.3-3.4-2.4-3.3-1.7-13.2-4.4-14.3-3.8-5.5-.7-7.3 0-27.5 3.3-4.8 1.2-4.4 1.8-3 1.8-2.3 2.5-1.2 2.4-.4 2.5 .6 2.4 1.7 2.5 4.6 2.9 7.3 2.2 9.2 1.2 15.9 1M411.6 680.6l-9.3 1.2-3.2 1.2 0 1.3 4.1 1.3 14.6 1.5 22 .7 23.9 1.4 12.8-.5 25.7-2.3 11-2 3.6-1.1 3.7-1.7M516.8 900.6l3.7-2.2M520.5 878.2l-3.7-2.6-1.8-.6-3.7-.3-7.3 1.2-20.2 5.2-7.3 2.3-5.5 2.4-16.5 9.8-10.7 5M412.1 800.4l9.4 .3 7.3-.2 9.2-.9 10.5-1.7 4.8-1.2 3-1.3 2.6-2.4 .3-2.4-1-2.1-1.5-1.6-6.5-3.6-13.8-4.9-9.4-2.5-5.5-.7-7.3 .1-23.9 3.3-7.6 2.2-2.3 1.2-2.9 2.5-1.4 2.4-.3 2.5 .8 2.4 1 1.2 3.6 2.6 7.2 2.3 8.4 1.3 15.3 1.2M443.8 680.6l-2.6 1.2-.9 1.2 2.5 1.3 11.7 2.3 11 .7 11-.5 23.8-2.3 9.2-1.6 7.3-2.3M509.3 900.6l6.5-2.4 2.9-2 1.8-2M520.5 882.9l-1.8-2.2-1.9-1.3-1.8-.9-3.7-.8-3.6 0-5.5 .8-14.7 3.1-10.1 3.1-7.7 3.7-12.4 8.5-3 2.5-.9 1.2M415.8 799.2l13-.1 7.4-.9 7.3-1.5 7.3-2.4 1.9-1.4 .7-1.1 .2-1.2-1.1-2.4-1.4-1.3-4-2.4-11.9-4.9-10-2.6-5.5-.5-5.5 .3-22 3.8-5.5 1.8-1.9 1-2.5 2.3-.7 1.2-.2 2.5 1.2 2.4 1.3 1.2 4.6 2.4 5.3 1.3 8.6 1.2 13.4 1.3M453.4 680.6l0 1.2 1.4 1.2 1.5 .6 5.5 1.1 5.5 .3 9.2-.4 18.3-1.6 8.7-1.2 5.8-1.2M495.9 900.6l8.1-1.2 7.3-2.1 3.7-2 3.1-3.3 .9-2.4-.1-2.4-.4-1.3-1.6-2.4-3.7-2.3-5.5-.9-7.4 .5-9.1 1.5-8.9 2.4-6.2 2.5-6.3 3.6-5.8 4.9-1.8 2.5-.2 1.2 .7 1.2M408.4 796.7l13.1 1.1 5.5-.2 6.9-.9 5.1-1.2 5.8-2.5 1.4-1.2 .6-1.2 0-1.2-1.8-2.5-3.6-2.4-4.9-2.5-6.8-2.4-8.2-1.4-5.5 .1-5.5 .9-12.8 2.8-4.2 1.3-4.3 2.4-1 1.2-.4 1.3 .7 2.4 1.3 1.2 2.4 1.4 5.5 1.7 10.7 1.8M462.7 680.6l3.1 1.2 5.2 .4 24.9-1.6M473.2 898.2l5.1 .6 12.9-.3 7.3-.7 5.5-1 5.5-1.8 3.7-2.5 1.7-2.9-.2-2.4-1.5-2-1.9-1.2-1.8-.7-3.7-.5-7.3 .2-9.5 1.7-7.6 2.5-6.7 3.6-2.5 2.5-1.3 2.4 .3 1.2 2 1.3M414.8 795.5l8.5 .5 5.5-.4 3.7-.8 5.5-2.2 2.1-2 .2-1.2-.3-1.2-2.1-2.5-4-2.4-5.1-2-7.3-1.2-3.7 .1-5.5 .9-7.7 2.2-5.8 2.4-1.5 1.2-.6 1.3 .2 1.2 1 1.2 1.6 .9 3.8 1.5 11.5 2.5M482.6 894.5l3.1 .6 5.5 .4 5.5-.3 4.1-.7 4-1.2 2.3-1.3 1.3-1.2 .6-1.2-.1-1.2-.9-1.2-2.2-1.1-3.6-.6-5.5 .1-5.5 1-5.5 1.8-3.9 2.4-.9 1.2 .1 1.3 1.6 1.2M416.1 793l7.2 .7 5.5-.8 2.9-1.1 1.7-1.2 .6-1.2 0-1.2-2-2.5-5-2.4-5.5-.8-6.2 .8-5.7 2.4-1.4 1.2-.5 1.3 .4 1.2 1.3 1.2 2.4 1.2 4.3 1.2"/></g>
<g transform="translate(420.3 694.3) rotate(0)"><rect x="-10" y="-5.6" width="20" height="11.2" fill="#00abff"/><text class="h" x="0.3" y="4.1" font-size="11.5" text-anchor="middle" letter-spacing="0.6">0.8</text></g><g transform="translate(420.3 706.4) rotate(0)"><rect x="-10" y="-5.6" width="20" height="11.2" fill="#00ffaa"/><text class="h" x="0.3" y="4.1" font-size="11.5" text-anchor="middle" letter-spacing="0.6">0.6</text></g><g transform="translate(449.9 706.0) rotate(0)"><rect x="-10" y="-5.6" width="20" height="11.2" fill="#00ffaa"/><text class="h" x="0.3" y="4.1" font-size="11.5" text-anchor="middle" letter-spacing="0.6">0.6</text></g><g transform="translate(456.9 717.3) rotate(0)"><rect x="-10" y="-5.6" width="20" height="11.2" fill="#80ff00"/><text class="h" x="0.3" y="4.1" font-size="11.5" text-anchor="middle" letter-spacing="0.6">0.4</text></g><g transform="translate(371.8 724.6) rotate(-32)"><rect x="-10" y="-5.6" width="20" height="11.2" fill="#80ff00"/><text class="h" x="0.3" y="4.1" font-size="11.5" text-anchor="middle" letter-spacing="0.6">0.4</text></g><g transform="translate(331.7 734.9) rotate(-90)"><rect x="-10" y="-5.6" width="20" height="11.2" fill="#00ffaa"/><text class="h" x="0.3" y="4.1" font-size="11.5" text-anchor="middle" letter-spacing="0.6">0.6</text></g><g transform="translate(437.5 750.7) rotate(0)"><rect x="-10" y="-5.6" width="20" height="11.2" fill="#80ff00"/><text class="h" x="0.3" y="4.1" font-size="11.5" text-anchor="middle" letter-spacing="0.6">0.4</text></g><g transform="translate(509 749.5) rotate(-60)"><rect x="-10" y="-5.6" width="20" height="11.2" fill="#00ffaa"/><text class="h" x="0.3" y="4.1" font-size="11.5" text-anchor="middle" letter-spacing="0.6">0.6</text></g><g transform="translate(413 758.7) rotate(0)"><rect x="-10" y="-5.6" width="20" height="11.2" fill="#00ffaa"/><text class="h" x="0.3" y="4.1" font-size="11.5" text-anchor="middle" letter-spacing="0.6">0.6</text></g><g transform="translate(410.6 769.4) rotate(0)"><rect x="-10" y="-5.6" width="20" height="11.2" fill="#00abff"/><text class="h" x="0.3" y="4.1" font-size="11.5" text-anchor="middle" letter-spacing="0.6">0.8</text></g><g transform="translate(438.5 770.2) rotate(0)"><rect x="-10" y="-5.6" width="20" height="11.2" fill="#00abff"/><text class="h" x="0.3" y="4.1" font-size="11.5" text-anchor="middle" letter-spacing="0.6">0.8</text></g><g transform="translate(366.5 805.2) rotate(12)"><rect x="-10" y="-5.6" width="20" height="11.2" fill="#00abff"/><text class="h" x="0.3" y="4.1" font-size="11.5" text-anchor="middle" letter-spacing="0.6">0.8</text></g><g transform="translate(466 805.8) rotate(0)"><rect x="-10" y="-5.6" width="20" height="11.2" fill="#00abff"/><text class="h" x="0.3" y="4.1" font-size="11.5" text-anchor="middle" letter-spacing="0.6">0.8</text></g><g transform="translate(420 814.4) rotate(0)"><rect x="-10" y="-5.6" width="20" height="11.2" fill="#00ffaa"/><text class="h" x="0.3" y="4.1" font-size="11.5" text-anchor="middle" letter-spacing="0.6">0.6</text></g><g transform="translate(370 817) rotate(-12)"><rect x="-10" y="-5.6" width="20" height="11.2" fill="#00ffaa"/><text class="h" x="0.3" y="4.1" font-size="11.5" text-anchor="middle" letter-spacing="0.6">0.6</text></g><g transform="translate(374 829) rotate(-18)"><rect x="-10" y="-5.6" width="20" height="11.2" fill="#80ff00"/><text class="h" x="0.3" y="4.1" font-size="11.5" text-anchor="middle" letter-spacing="0.6">0.4</text></g><g transform="translate(432.4 823.6) rotate(0)"><rect x="-10" y="-5.6" width="20" height="11.2" fill="#80ff00"/><text class="h" x="0.3" y="4.1" font-size="11.5" text-anchor="middle" letter-spacing="0.6">0.4</text></g><g transform="translate(427.6 833.2) rotate(0)"><rect x="-10" y="-5.6" width="20" height="11.2" fill="#ffb600"/><text class="h" x="0.3" y="4.1" font-size="11.5" text-anchor="middle" letter-spacing="0.6">0.2</text></g><g transform="translate(511 849.2) rotate(-8)"><rect x="-10" y="-5.6" width="20" height="11.2" fill="#00abff"/><text class="h" x="0.3" y="4.1" font-size="11.5" text-anchor="middle" letter-spacing="0.6">0.8</text></g><g transform="translate(378.8 857.5) rotate(55)"><rect x="-10" y="-5.6" width="20" height="11.2" fill="#ffb600"/><text class="h" x="0.3" y="4.1" font-size="11.5" text-anchor="middle" letter-spacing="0.6">0.2</text></g><g transform="translate(469.7 860.8) rotate(-45)"><rect x="-10" y="-5.6" width="20" height="11.2" fill="#00ffaa"/><text class="h" x="0.3" y="4.1" font-size="11.5" text-anchor="middle" letter-spacing="0.6">0.6</text></g><g transform="translate(417.3 874) rotate(-5)"><rect x="-10" y="-5.6" width="20" height="11.2" fill="#80ff00"/><text class="h" x="0.3" y="4.1" font-size="11.5" text-anchor="middle" letter-spacing="0.6">0.4</text></g><g transform="translate(374.6 881.7) rotate(10)"><rect x="-10" y="-5.6" width="20" height="11.2" fill="#00ffaa"/><text class="h" x="0.3" y="4.1" font-size="11.5" text-anchor="middle" letter-spacing="0.6">0.6</text></g><g transform="translate(422.1 892.4) rotate(-10)"><rect x="-10" y="-5.6" width="20" height="11.2" fill="#00abff"/><text class="h" x="0.3" y="4.1" font-size="11.5" text-anchor="middle" letter-spacing="0.6">0.8</text></g><polygon points="409.8,842.6 411.0,846.1 414.7,846.2 411.8,848.4 412.9,852.0 409.8,849.9 406.7,852.0 407.8,848.4 404.9,846.2 408.6,846.1" fill="#000"/>
<rect x="300.5" y="680.6" width="220" height="220" fill="none" stroke="#000" stroke-width="2.8"/>
<line x1="300.5" y1="673.6" x2="300.5" y2="680.6" stroke="#000" stroke-width="1"/>
<line x1="300.5" y1="900.6" x2="300.5" y2="907.6" stroke="#000" stroke-width="1"/>
<line x1="307.8" y1="676.6" x2="307.8" y2="680.6" stroke="#000" stroke-width="1"/>
<line x1="307.8" y1="900.6" x2="307.8" y2="904.6" stroke="#000" stroke-width="1"/>
<line x1="315.2" y1="676.6" x2="315.2" y2="680.6" stroke="#000" stroke-width="1"/>
<line x1="315.2" y1="900.6" x2="315.2" y2="904.6" stroke="#000" stroke-width="1"/>
<line x1="322.5" y1="676.6" x2="322.5" y2="680.6" stroke="#000" stroke-width="1"/>
<line x1="322.5" y1="900.6" x2="322.5" y2="904.6" stroke="#000" stroke-width="1"/>
<line x1="329.8" y1="676.6" x2="329.8" y2="680.6" stroke="#000" stroke-width="1"/>
<line x1="329.8" y1="900.6" x2="329.8" y2="904.6" stroke="#000" stroke-width="1"/>
<line x1="337.2" y1="673.6" x2="337.2" y2="680.6" stroke="#000" stroke-width="1"/>
<line x1="337.2" y1="900.6" x2="337.2" y2="907.6" stroke="#000" stroke-width="1"/>
<line x1="344.5" y1="676.6" x2="344.5" y2="680.6" stroke="#000" stroke-width="1"/>
<line x1="344.5" y1="900.6" x2="344.5" y2="904.6" stroke="#000" stroke-width="1"/>
<line x1="351.8" y1="676.6" x2="351.8" y2="680.6" stroke="#000" stroke-width="1"/>
<line x1="351.8" y1="900.6" x2="351.8" y2="904.6" stroke="#000" stroke-width="1"/>
<line x1="359.2" y1="676.6" x2="359.2" y2="680.6" stroke="#000" stroke-width="1"/>
<line x1="359.2" y1="900.6" x2="359.2" y2="904.6" stroke="#000" stroke-width="1"/>
<line x1="366.5" y1="676.6" x2="366.5" y2="680.6" stroke="#000" stroke-width="1"/>
<line x1="366.5" y1="900.6" x2="366.5" y2="904.6" stroke="#000" stroke-width="1"/>
<line x1="373.8" y1="673.6" x2="373.8" y2="680.6" stroke="#000" stroke-width="1"/>
<line x1="373.8" y1="900.6" x2="373.8" y2="907.6" stroke="#000" stroke-width="1"/>
<line x1="381.2" y1="676.6" x2="381.2" y2="680.6" stroke="#000" stroke-width="1"/>
<line x1="381.2" y1="900.6" x2="381.2" y2="904.6" stroke="#000" stroke-width="1"/>
<line x1="388.5" y1="676.6" x2="388.5" y2="680.6" stroke="#000" stroke-width="1"/>
<line x1="388.5" y1="900.6" x2="388.5" y2="904.6" stroke="#000" stroke-width="1"/>
<line x1="395.8" y1="676.6" x2="395.8" y2="680.6" stroke="#000" stroke-width="1"/>
<line x1="395.8" y1="900.6" x2="395.8" y2="904.6" stroke="#000" stroke-width="1"/>
<line x1="403.2" y1="676.6" x2="403.2" y2="680.6" stroke="#000" stroke-width="1"/>
<line x1="403.2" y1="900.6" x2="403.2" y2="904.6" stroke="#000" stroke-width="1"/>
<line x1="410.5" y1="673.6" x2="410.5" y2="680.6" stroke="#000" stroke-width="1"/>
<line x1="410.5" y1="900.6" x2="410.5" y2="907.6" stroke="#000" stroke-width="1"/>
<line x1="417.8" y1="676.6" x2="417.8" y2="680.6" stroke="#000" stroke-width="1"/>
<line x1="417.8" y1="900.6" x2="417.8" y2="904.6" stroke="#000" stroke-width="1"/>
<line x1="425.2" y1="676.6" x2="425.2" y2="680.6" stroke="#000" stroke-width="1"/>
<line x1="425.2" y1="900.6" x2="425.2" y2="904.6" stroke="#000" stroke-width="1"/>
<line x1="432.5" y1="676.6" x2="432.5" y2="680.6" stroke="#000" stroke-width="1"/>
<line x1="432.5" y1="900.6" x2="432.5" y2="904.6" stroke="#000" stroke-width="1"/>
<line x1="439.8" y1="676.6" x2="439.8" y2="680.6" stroke="#000" stroke-width="1"/>
<line x1="439.8" y1="900.6" x2="439.8" y2="904.6" stroke="#000" stroke-width="1"/>
<line x1="447.2" y1="673.6" x2="447.2" y2="680.6" stroke="#000" stroke-width="1"/>
<line x1="447.2" y1="900.6" x2="447.2" y2="907.6" stroke="#000" stroke-width="1"/>
<line x1="454.5" y1="676.6" x2="454.5" y2="680.6" stroke="#000" stroke-width="1"/>
<line x1="454.5" y1="900.6" x2="454.5" y2="904.6" stroke="#000" stroke-width="1"/>
<line x1="461.8" y1="676.6" x2="461.8" y2="680.6" stroke="#000" stroke-width="1"/>
<line x1="461.8" y1="900.6" x2="461.8" y2="904.6" stroke="#000" stroke-width="1"/>
<line x1="469.2" y1="676.6" x2="469.2" y2="680.6" stroke="#000" stroke-width="1"/>
<line x1="469.2" y1="900.6" x2="469.2" y2="904.6" stroke="#000" stroke-width="1"/>
<line x1="476.5" y1="676.6" x2="476.5" y2="680.6" stroke="#000" stroke-width="1"/>
<line x1="476.5" y1="900.6" x2="476.5" y2="904.6" stroke="#000" stroke-width="1"/>
<line x1="483.8" y1="673.6" x2="483.8" y2="680.6" stroke="#000" stroke-width="1"/>
<line x1="483.8" y1="900.6" x2="483.8" y2="907.6" stroke="#000" stroke-width="1"/>
<line x1="491.2" y1="676.6" x2="491.2" y2="680.6" stroke="#000" stroke-width="1"/>
<line x1="491.2" y1="900.6" x2="491.2" y2="904.6" stroke="#000" stroke-width="1"/>
<line x1="498.5" y1="676.6" x2="498.5" y2="680.6" stroke="#000" stroke-width="1"/>
<line x1="498.5" y1="900.6" x2="498.5" y2="904.6" stroke="#000" stroke-width="1"/>
<line x1="505.8" y1="676.6" x2="505.8" y2="680.6" stroke="#000" stroke-width="1"/>
<line x1="505.8" y1="900.6" x2="505.8" y2="904.6" stroke="#000" stroke-width="1"/>
<line x1="513.2" y1="676.6" x2="513.2" y2="680.6" stroke="#000" stroke-width="1"/>
<line x1="513.2" y1="900.6" x2="513.2" y2="904.6" stroke="#000" stroke-width="1"/>
<line x1="520.5" y1="673.6" x2="520.5" y2="680.6" stroke="#000" stroke-width="1"/>
<line x1="520.5" y1="900.6" x2="520.5" y2="907.6" stroke="#000" stroke-width="1"/>
<line x1="292.5" y1="680.6" x2="300.5" y2="680.6" stroke="#000" stroke-width="1"/>
<line x1="520.5" y1="680.6" x2="527.5" y2="680.6" stroke="#000" stroke-width="1"/>
<line x1="296.5" y1="692.8" x2="300.5" y2="692.8" stroke="#000" stroke-width="1"/>
<line x1="520.5" y1="692.8" x2="523.5" y2="692.8" stroke="#000" stroke-width="1"/>
<line x1="296.5" y1="705.0" x2="300.5" y2="705.0" stroke="#000" stroke-width="1"/>
<line x1="520.5" y1="705.0" x2="523.5" y2="705.0" stroke="#000" stroke-width="1"/>
<line x1="292.5" y1="717.3" x2="300.5" y2="717.3" stroke="#000" stroke-width="1"/>
<line x1="520.5" y1="717.3" x2="527.5" y2="717.3" stroke="#000" stroke-width="1"/>
<line x1="296.5" y1="729.5" x2="300.5" y2="729.5" stroke="#000" stroke-width="1"/>
<line x1="520.5" y1="729.5" x2="523.5" y2="729.5" stroke="#000" stroke-width="1"/>
<line x1="296.5" y1="741.7" x2="300.5" y2="741.7" stroke="#000" stroke-width="1"/>
<line x1="520.5" y1="741.7" x2="523.5" y2="741.7" stroke="#000" stroke-width="1"/>
<line x1="292.5" y1="753.9" x2="300.5" y2="753.9" stroke="#000" stroke-width="1"/>
<line x1="520.5" y1="753.9" x2="527.5" y2="753.9" stroke="#000" stroke-width="1"/>
<line x1="296.5" y1="766.2" x2="300.5" y2="766.2" stroke="#000" stroke-width="1"/>
<line x1="520.5" y1="766.2" x2="523.5" y2="766.2" stroke="#000" stroke-width="1"/>
<line x1="296.5" y1="778.4" x2="300.5" y2="778.4" stroke="#000" stroke-width="1"/>
<line x1="520.5" y1="778.4" x2="523.5" y2="778.4" stroke="#000" stroke-width="1"/>
<line x1="292.5" y1="790.6" x2="300.5" y2="790.6" stroke="#000" stroke-width="1"/>
<line x1="520.5" y1="790.6" x2="527.5" y2="790.6" stroke="#000" stroke-width="1"/>
<line x1="296.5" y1="802.8" x2="300.5" y2="802.8" stroke="#000" stroke-width="1"/>
<line x1="520.5" y1="802.8" x2="523.5" y2="802.8" stroke="#000" stroke-width="1"/>
<line x1="296.5" y1="815.0" x2="300.5" y2="815.0" stroke="#000" stroke-width="1"/>
<line x1="520.5" y1="815.0" x2="523.5" y2="815.0" stroke="#000" stroke-width="1"/>
<line x1="292.5" y1="827.3" x2="300.5" y2="827.3" stroke="#000" stroke-width="1"/>
<line x1="520.5" y1="827.3" x2="527.5" y2="827.3" stroke="#000" stroke-width="1"/>
<line x1="296.5" y1="839.5" x2="300.5" y2="839.5" stroke="#000" stroke-width="1"/>
<line x1="520.5" y1="839.5" x2="523.5" y2="839.5" stroke="#000" stroke-width="1"/>
<line x1="296.5" y1="851.7" x2="300.5" y2="851.7" stroke="#000" stroke-width="1"/>
<line x1="520.5" y1="851.7" x2="523.5" y2="851.7" stroke="#000" stroke-width="1"/>
<line x1="292.5" y1="863.9" x2="300.5" y2="863.9" stroke="#000" stroke-width="1"/>
<line x1="520.5" y1="863.9" x2="527.5" y2="863.9" stroke="#000" stroke-width="1"/>
<line x1="296.5" y1="876.2" x2="300.5" y2="876.2" stroke="#000" stroke-width="1"/>
<line x1="520.5" y1="876.2" x2="523.5" y2="876.2" stroke="#000" stroke-width="1"/>
<line x1="296.5" y1="888.4" x2="300.5" y2="888.4" stroke="#000" stroke-width="1"/>
<line x1="520.5" y1="888.4" x2="523.5" y2="888.4" stroke="#000" stroke-width="1"/>
<line x1="292.5" y1="900.6" x2="300.5" y2="900.6" stroke="#000" stroke-width="1"/>
<line x1="520.5" y1="900.6" x2="527.5" y2="900.6" stroke="#000" stroke-width="1"/>
<text class="h" x="284.5" y="687.4" font-size="18.8" text-anchor="end">90</text>
<text class="h" x="284.5" y="724.1" font-size="18.8" text-anchor="end">60</text>
<text class="h" x="284.5" y="760.7" font-size="18.8" text-anchor="end">30</text>
<text class="h" x="284.5" y="797.4" font-size="18.8" text-anchor="end">0</text>
<text class="h" x="284.5" y="834.1" font-size="18.8" text-anchor="end">-30</text>
<text class="h" x="284.5" y="870.7" font-size="18.8" text-anchor="end">-60</text>
<text class="h" x="284.5" y="907.4" font-size="18.8" text-anchor="end">-90</text>
<text class="h" x="300.5" y="928.8" font-size="18.8" text-anchor="middle">0.0</text>
<text class="h" x="337.2" y="928.8" font-size="18.8" text-anchor="middle">0.5</text>
<text class="h" x="373.8" y="928.8" font-size="18.8" text-anchor="middle">1.0</text>
<text class="h" x="410.5" y="928.8" font-size="18.8" text-anchor="middle">1.5</text>
<text class="h" x="447.2" y="928.8" font-size="18.8" text-anchor="middle">2.0</text>
<text class="h" x="483.8" y="928.8" font-size="18.8" text-anchor="middle">2.5</text>
<text class="h" x="520.5" y="928.8" font-size="18.8" text-anchor="middle">3.0</text>
<text class="t" x="293.3" y="668" font-size="16.8"><tspan font-weight="normal">ϕ</tspan>= -47.0 +/- 4.5° <tspan font-weight="normal">δ</tspan>t= 1.50 +/-0.18s</text>
<text class="t" x="351.5" y="954.7" font-size="16.5">Splitting time (s)</text>
<text class="t" transform="translate(246.4 869.9) rotate(-90)" x="0" y="0" font-size="16.85">Fast direction (degree)</text>
<text class="h" x="206.8" y="979.9" font-size="19.44">Ror= 1.06; Rot= 1.80; Rct= 1.17; Rct/Rot= 0.65</text>
</svg></body></html>
